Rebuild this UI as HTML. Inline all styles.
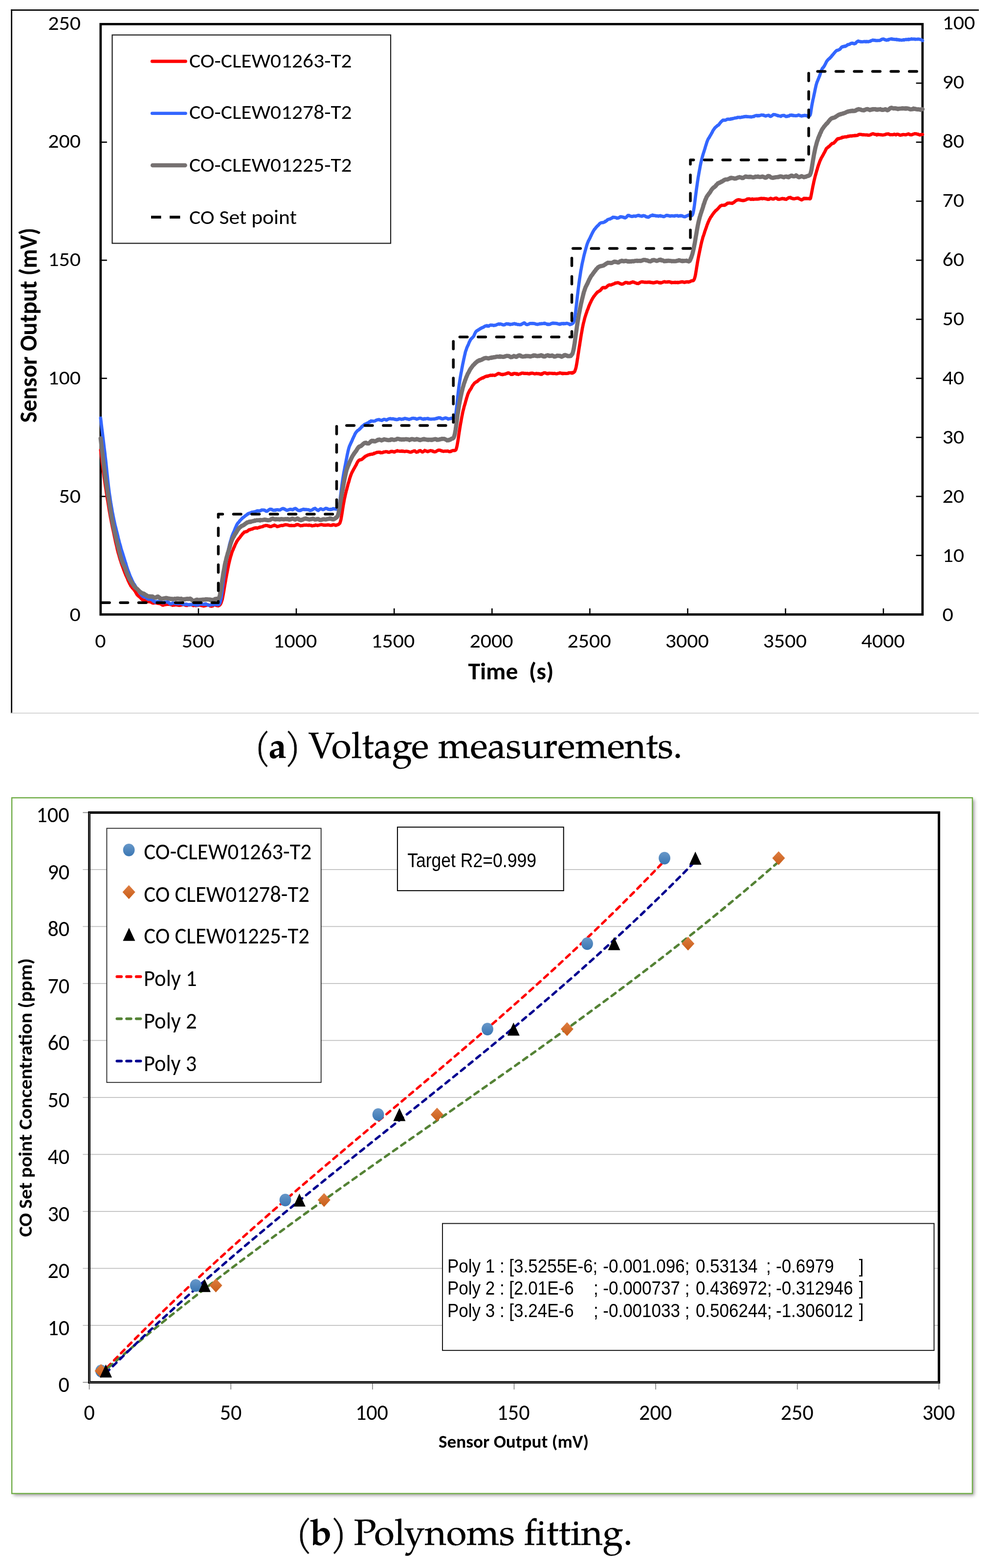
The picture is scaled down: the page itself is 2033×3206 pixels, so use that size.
<!DOCTYPE html>
<html><head><meta charset="utf-8"><title>Figure</title>
<style>html,body{margin:0;padding:0;background:#fff;overflow:hidden;}svg{display:block;}</style>
</head><body>
<svg width="2033" height="3206" viewBox="0 0 2033 3206"><line x1="22.3" y1="20.6" x2="2002" y2="20.6" stroke="#000" stroke-width="2.6"/>
<line x1="23.7" y1="19.3" x2="23.7" y2="1458.6" stroke="#000" stroke-width="2.7"/>
<line x1="22.5" y1="1458.1" x2="2002" y2="1458.1" stroke="#d0d0d0" stroke-width="1.6"/>
<line x1="205.8" y1="1015.0" x2="218.8" y2="1015.0" stroke="#000" stroke-width="2.6"/>
<line x1="205.8" y1="773.6" x2="218.8" y2="773.6" stroke="#000" stroke-width="2.6"/>
<line x1="205.8" y1="532.1" x2="218.8" y2="532.1" stroke="#000" stroke-width="2.6"/>
<line x1="205.8" y1="290.7" x2="218.8" y2="290.7" stroke="#000" stroke-width="2.6"/>
<line x1="1873.6" y1="1135.7" x2="1886.8" y2="1135.7" stroke="#000" stroke-width="2.6"/>
<line x1="1873.6" y1="1015.0" x2="1886.8" y2="1015.0" stroke="#000" stroke-width="2.6"/>
<line x1="1873.6" y1="894.3" x2="1886.8" y2="894.3" stroke="#000" stroke-width="2.6"/>
<line x1="1873.6" y1="773.6" x2="1886.8" y2="773.6" stroke="#000" stroke-width="2.6"/>
<line x1="1873.6" y1="652.9" x2="1886.8" y2="652.9" stroke="#000" stroke-width="2.6"/>
<line x1="1873.6" y1="532.1" x2="1886.8" y2="532.1" stroke="#000" stroke-width="2.6"/>
<line x1="1873.6" y1="411.4" x2="1886.8" y2="411.4" stroke="#000" stroke-width="2.6"/>
<line x1="1873.6" y1="290.7" x2="1886.8" y2="290.7" stroke="#000" stroke-width="2.6"/>
<line x1="1873.6" y1="170.0" x2="1886.8" y2="170.0" stroke="#000" stroke-width="2.6"/>
<line x1="405.9" y1="1243.9" x2="405.9" y2="1256.4" stroke="#000" stroke-width="2.6"/>
<line x1="606.0" y1="1243.9" x2="606.0" y2="1256.4" stroke="#000" stroke-width="2.6"/>
<line x1="806.2" y1="1243.9" x2="806.2" y2="1256.4" stroke="#000" stroke-width="2.6"/>
<line x1="1006.3" y1="1243.9" x2="1006.3" y2="1256.4" stroke="#000" stroke-width="2.6"/>
<line x1="1206.4" y1="1243.9" x2="1206.4" y2="1256.4" stroke="#000" stroke-width="2.6"/>
<line x1="1406.5" y1="1243.9" x2="1406.5" y2="1256.4" stroke="#000" stroke-width="2.6"/>
<line x1="1606.6" y1="1243.9" x2="1606.6" y2="1256.4" stroke="#000" stroke-width="2.6"/>
<line x1="1806.8" y1="1243.9" x2="1806.8" y2="1256.4" stroke="#000" stroke-width="2.6"/>
<text transform="translate(0 1269.70)" x="142.60" y="0" font-family="Carlito, 'Liberation Sans', sans-serif" font-size="41.70" textLength="22.30" lengthAdjust="spacingAndGlyphs" xml:space="preserve">0</text>
<text transform="translate(0 1027.86)" x="120.44" y="0" font-family="Carlito, 'Liberation Sans', sans-serif" font-size="41.70" textLength="44.59" lengthAdjust="spacingAndGlyphs" xml:space="preserve">50</text>
<text transform="translate(0 786.02)" x="98.29" y="0" font-family="Carlito, 'Liberation Sans', sans-serif" font-size="41.70" textLength="66.88" lengthAdjust="spacingAndGlyphs" xml:space="preserve">100</text>
<text transform="translate(0 544.18)" x="98.29" y="0" font-family="Carlito, 'Liberation Sans', sans-serif" font-size="41.70" textLength="66.88" lengthAdjust="spacingAndGlyphs" xml:space="preserve">150</text>
<text transform="translate(0 302.34)" x="98.29" y="0" font-family="Carlito, 'Liberation Sans', sans-serif" font-size="41.70" textLength="66.88" lengthAdjust="spacingAndGlyphs" xml:space="preserve">200</text>
<text transform="translate(0 60.50)" x="98.29" y="0" font-family="Carlito, 'Liberation Sans', sans-serif" font-size="41.70" textLength="66.88" lengthAdjust="spacingAndGlyphs" xml:space="preserve">250</text>
<text transform="translate(0 1269.60)" x="1927.44" y="0" font-family="Carlito, 'Liberation Sans', sans-serif" font-size="41.70" textLength="22.30" lengthAdjust="spacingAndGlyphs" xml:space="preserve">0</text>
<text transform="translate(0 1148.67)" x="1927.44" y="0" font-family="Carlito, 'Liberation Sans', sans-serif" font-size="41.70" textLength="44.59" lengthAdjust="spacingAndGlyphs" xml:space="preserve">10</text>
<text transform="translate(0 1027.74)" x="1927.44" y="0" font-family="Carlito, 'Liberation Sans', sans-serif" font-size="41.70" textLength="44.59" lengthAdjust="spacingAndGlyphs" xml:space="preserve">20</text>
<text transform="translate(0 906.81)" x="1927.44" y="0" font-family="Carlito, 'Liberation Sans', sans-serif" font-size="41.70" textLength="44.59" lengthAdjust="spacingAndGlyphs" xml:space="preserve">30</text>
<text transform="translate(0 785.88)" x="1927.44" y="0" font-family="Carlito, 'Liberation Sans', sans-serif" font-size="41.70" textLength="44.59" lengthAdjust="spacingAndGlyphs" xml:space="preserve">40</text>
<text transform="translate(0 664.95)" x="1927.44" y="0" font-family="Carlito, 'Liberation Sans', sans-serif" font-size="41.70" textLength="44.59" lengthAdjust="spacingAndGlyphs" xml:space="preserve">50</text>
<text transform="translate(0 544.02)" x="1927.44" y="0" font-family="Carlito, 'Liberation Sans', sans-serif" font-size="41.70" textLength="44.59" lengthAdjust="spacingAndGlyphs" xml:space="preserve">60</text>
<text transform="translate(0 423.09)" x="1927.44" y="0" font-family="Carlito, 'Liberation Sans', sans-serif" font-size="41.70" textLength="44.59" lengthAdjust="spacingAndGlyphs" xml:space="preserve">70</text>
<text transform="translate(0 302.16)" x="1927.44" y="0" font-family="Carlito, 'Liberation Sans', sans-serif" font-size="41.70" textLength="44.59" lengthAdjust="spacingAndGlyphs" xml:space="preserve">80</text>
<text transform="translate(0 181.23)" x="1927.44" y="0" font-family="Carlito, 'Liberation Sans', sans-serif" font-size="41.70" textLength="44.59" lengthAdjust="spacingAndGlyphs" xml:space="preserve">90</text>
<text transform="translate(0 60.30)" x="1927.44" y="0" font-family="Carlito, 'Liberation Sans', sans-serif" font-size="41.70" textLength="66.88" lengthAdjust="spacingAndGlyphs" xml:space="preserve">100</text>
<text transform="translate(0 1323.80)" x="194.22" y="0" font-family="Carlito, 'Liberation Sans', sans-serif" font-size="41.70" textLength="22.30" lengthAdjust="spacingAndGlyphs" xml:space="preserve">0</text>
<text transform="translate(0 1323.80)" x="371.66" y="0" font-family="Carlito, 'Liberation Sans', sans-serif" font-size="41.70" textLength="66.88" lengthAdjust="spacingAndGlyphs" xml:space="preserve">500</text>
<text transform="translate(0 1323.80)" x="559.12" y="0" font-family="Carlito, 'Liberation Sans', sans-serif" font-size="41.70" textLength="89.16" lengthAdjust="spacingAndGlyphs" xml:space="preserve">1000</text>
<text transform="translate(0 1323.80)" x="759.24" y="0" font-family="Carlito, 'Liberation Sans', sans-serif" font-size="41.70" textLength="89.16" lengthAdjust="spacingAndGlyphs" xml:space="preserve">1500</text>
<text transform="translate(0 1323.80)" x="960.41" y="0" font-family="Carlito, 'Liberation Sans', sans-serif" font-size="41.70" textLength="89.16" lengthAdjust="spacingAndGlyphs" xml:space="preserve">2000</text>
<text transform="translate(0 1323.80)" x="1160.53" y="0" font-family="Carlito, 'Liberation Sans', sans-serif" font-size="41.70" textLength="89.16" lengthAdjust="spacingAndGlyphs" xml:space="preserve">2500</text>
<text transform="translate(0 1323.80)" x="1360.65" y="0" font-family="Carlito, 'Liberation Sans', sans-serif" font-size="41.70" textLength="89.16" lengthAdjust="spacingAndGlyphs" xml:space="preserve">3000</text>
<text transform="translate(0 1323.80)" x="1560.77" y="0" font-family="Carlito, 'Liberation Sans', sans-serif" font-size="41.70" textLength="89.16" lengthAdjust="spacingAndGlyphs" xml:space="preserve">3500</text>
<text transform="translate(0 1323.80)" x="1761.41" y="0" font-family="Carlito, 'Liberation Sans', sans-serif" font-size="41.70" textLength="89.16" lengthAdjust="spacingAndGlyphs" xml:space="preserve">4000</text>
<text transform="translate(0 1389.00)" x="957.40" y="0" font-family="Carlito, 'Liberation Sans', sans-serif" font-size="48.40" font-weight="700" textLength="175.08" lengthAdjust="spacingAndGlyphs" xml:space="preserve">Time  (s)</text>
<text transform="translate(74.50 665.75) rotate(-90) scale(1 1.0300)" x="-198.44" y="0" font-family="Carlito, 'Liberation Sans', sans-serif" font-size="48.60" font-weight="700" textLength="398.47" lengthAdjust="spacingAndGlyphs" xml:space="preserve">Sensor Output (mV)</text>
<defs><clipPath id="pa"><rect x="200" y="44" width="1693" height="1218"/></clipPath></defs>
<rect x="205.8" y="49.3" width="1681.0" height="1207.1" fill="none" stroke="#000" stroke-width="4.7"/>
<g clip-path="url(#pa)" fill="none" stroke-linejoin="round" stroke-linecap="round">
<path d="M 205.8,920.2 L 206.6,926.2 207.4,933.2 208.2,939.5 209.0,946.0 209.8,951.9 210.6,958.3 211.4,964.3 212.2,969.7 213.0,976.0 213.8,981.2 214.6,986.6 215.4,992.3 216.2,997.6 217.0,1002.5 217.8,1008.2 218.6,1013.5 219.4,1018.8 220.2,1023.5 221.0,1028.1 221.8,1033.1 222.6,1038.4 223.4,1043.1 224.2,1047.7 225.0,1052.1 225.8,1056.6 226.6,1060.8 227.4,1065.0 228.2,1069.2 229.0,1073.1 229.8,1077.0 230.6,1080.8 231.4,1084.4 232.2,1087.8 233.0,1091.8 233.8,1095.6 234.6,1099.7 235.4,1102.9 236.2,1107.2 237.0,1110.7 237.8,1113.7 238.6,1117.3 239.4,1120.9 240.2,1124.6 241.0,1127.5 241.8,1130.6 242.6,1133.2 243.4,1135.7 244.2,1138.9 245.0,1141.8 245.8,1144.4 246.6,1146.6 247.4,1149.1 248.2,1151.7 249.0,1153.7 249.8,1156.3 250.6,1158.0 251.4,1160.3 252.2,1162.5 253.0,1165.0 253.8,1166.8 254.6,1169.0 255.4,1171.1 256.2,1173.0 257.0,1175.1 257.8,1177.0 258.6,1178.4 259.4,1180.4 260.2,1182.2 261.0,1183.9 261.8,1186.4 262.6,1188.0 263.4,1189.6 264.2,1191.3 265.0,1193.1 265.8,1194.3 266.6,1195.9 267.4,1197.6 268.2,1198.8 269.0,1199.5 269.8,1200.6 270.6,1202.2 271.4,1202.4 272.2,1203.5 273.0,1204.2 273.8,1205.6 274.6,1206.5 275.4,1207.8 276.2,1208.1 277.0,1210.1 277.8,1211.1 278.6,1213.0 279.4,1214.1 280.2,1215.8 281.0,1216.5 281.8,1217.1 282.6,1218.4 283.4,1218.5 284.2,1219.2 285.0,1220.2 285.8,1220.7 286.6,1221.4 287.4,1222.1 288.2,1223.1 289.0,1224.1 289.9,1224.8 290.7,1225.7 291.5,1226.4 292.3,1226.5 293.1,1226.6 293.9,1227.4 294.7,1227.2 295.5,1227.5 296.3,1227.8 297.1,1227.7 297.9,1228.4 298.7,1228.4 299.5,1229.4 300.3,1229.5 301.1,1230.0 301.9,1230.3 302.7,1230.1 303.5,1230.3 304.3,1230.0 305.1,1230.1 305.9,1230.4 306.7,1230.2 307.5,1230.4 308.3,1230.5 309.1,1231.3 309.9,1231.6 310.7,1232.4 311.5,1232.2 312.3,1232.9 313.1,1233.2 313.9,1232.8 314.7,1232.4 315.5,1232.9 316.3,1232.7 317.1,1232.5 317.9,1232.6 318.7,1232.3 319.5,1232.8 320.3,1233.0 321.1,1232.9 321.9,1233.4 322.7,1233.3 323.5,1233.7 324.3,1233.9 325.1,1234.1 325.9,1233.4 326.7,1234.1 327.5,1234.2 328.3,1234.6 329.1,1235.1 329.9,1235.6 330.7,1235.7 331.5,1236.9 332.3,1237.3 333.1,1237.4 333.9,1237.5 334.7,1236.8 335.5,1236.5 336.3,1236.6 337.1,1236.4 337.9,1235.8 338.7,1235.2 339.5,1236.1 340.3,1235.3 341.1,1235.6 341.9,1235.2 342.7,1235.7 343.5,1235.6 344.3,1235.8 345.1,1235.7 345.9,1235.1 346.7,1235.2 347.5,1235.5 348.3,1235.7 349.1,1236.2 349.9,1236.1 350.7,1236.4 351.5,1236.7 352.3,1237.1 353.1,1237.6 353.9,1237.5 354.7,1237.5 355.5,1237.1 356.3,1236.8 357.1,1237.1 357.9,1237.1 358.7,1236.7 359.5,1236.8 360.3,1236.8 361.1,1236.7 361.9,1237.1 362.7,1236.9 363.5,1237.2 364.3,1237.3 365.1,1237.5 365.9,1237.8 366.7,1237.9 367.5,1237.7 368.3,1237.8 369.1,1237.4 369.9,1237.2 370.7,1237.3 371.5,1236.6 372.3,1236.6 373.1,1236.1 373.9,1235.8 374.7,1236.2 375.5,1235.8 376.3,1236.1 377.1,1236.5 377.9,1237.0 378.7,1237.3 379.5,1237.8 380.3,1237.8 381.1,1238.0 381.9,1237.8 382.7,1238.0 383.5,1237.5 384.3,1237.3 385.1,1237.1 385.9,1237.0 386.7,1236.5 387.5,1236.9 388.3,1236.2 389.1,1236.2 389.9,1236.2 390.7,1236.3 391.5,1236.8 392.3,1237.0 393.1,1237.1 393.9,1237.4 394.7,1237.7 395.5,1238.3 396.3,1237.9 397.1,1237.7 397.9,1237.7 398.7,1237.8 399.5,1238.1 400.3,1237.4 401.1,1237.6 401.9,1238.1 402.7,1237.4 403.5,1237.9 404.3,1237.8 405.1,1237.7 405.9,1237.2 406.7,1237.6 407.5,1237.4 408.3,1237.0 409.1,1237.1 409.9,1237.5 410.7,1237.7 411.5,1238.1 412.3,1238.1 413.1,1238.1 413.9,1238.4 414.7,1238.7 415.5,1238.7 416.3,1239.2 417.1,1239.1 417.9,1238.8 418.7,1238.7 419.5,1238.4 420.3,1238.3 421.1,1238.1 421.9,1237.6 422.7,1237.6 423.5,1237.4 424.3,1236.6 425.1,1236.6 425.9,1236.5 426.7,1237.1 427.5,1237.2 428.3,1237.7 429.1,1238.4 429.9,1239.3 430.7,1239.3 431.5,1239.3 432.3,1239.5 433.1,1239.5 433.9,1239.0 434.7,1238.4 435.5,1238.7 436.3,1237.6 437.1,1237.1 437.9,1236.9 438.7,1236.6 439.5,1236.8 440.3,1237.2 441.1,1237.4 441.9,1237.6 442.7,1238.2 443.5,1238.3 444.3,1238.3 445.1,1238.2 445.9,1238.8 446.7,1238.7 447.5,1238.3 448.3,1237.6 449.1,1237.3 449.9,1236.1 450.7,1235.6 451.5,1234.1 452.3,1232.4 453.1,1230.1 453.9,1227.5 454.7,1225.0 455.5,1221.1 456.3,1216.6 457.1,1212.3 458.0,1207.7 458.8,1202.3 459.6,1197.7 460.4,1192.9 461.2,1188.6 462.0,1183.7 462.8,1179.5 463.6,1174.9 464.4,1171.1 465.2,1166.8 466.0,1162.5 466.8,1158.8 467.6,1154.7 468.4,1151.2 469.2,1148.0 470.0,1144.5 470.8,1141.6 471.6,1138.4 472.4,1136.1 473.2,1133.5 474.0,1130.7 474.8,1128.2 475.6,1126.2 476.4,1124.7 477.2,1122.7 478.0,1120.5 478.8,1119.0 479.6,1117.3 480.4,1115.2 481.2,1113.3 482.0,1111.8 482.8,1110.3 483.6,1108.7 484.4,1106.8 485.2,1105.9 486.0,1104.6 486.8,1103.4 487.6,1102.3 488.4,1101.5 489.2,1100.3 490.0,1099.6 490.8,1098.5 491.6,1097.6 492.4,1096.0 493.2,1095.3 494.0,1094.4 494.8,1093.3 495.6,1092.2 496.4,1091.0 497.2,1090.7 498.0,1089.8 498.8,1088.9 499.6,1087.7 500.4,1087.7 501.2,1087.8 502.0,1087.4 502.8,1086.9 503.6,1087.3 504.4,1087.1 505.2,1086.3 506.0,1086.0 506.8,1085.4 507.6,1085.0 508.4,1083.8 509.2,1083.3 510.0,1083.1 510.8,1082.7 511.6,1083.1 512.4,1082.3 513.2,1082.3 514.0,1082.0 514.8,1081.8 515.6,1081.7 516.4,1081.7 517.2,1080.8 518.0,1080.7 518.8,1080.2 519.6,1080.0 520.4,1079.7 521.2,1080.0 522.0,1079.2 522.8,1079.4 523.6,1079.3 524.4,1079.1 525.2,1079.6 526.0,1080.0 526.8,1079.6 527.6,1079.4 528.4,1079.0 529.2,1078.6 530.0,1078.8 530.8,1077.9 531.6,1078.2 532.4,1077.5 533.2,1077.5 534.0,1077.4 534.8,1077.2 535.6,1077.1 536.4,1076.9 537.2,1077.0 538.0,1076.3 538.8,1075.6 539.6,1075.3 540.4,1075.2 541.2,1075.1 542.0,1075.1 542.8,1074.4 543.6,1074.6 544.4,1074.4 545.2,1074.5 546.0,1074.4 546.8,1074.7 547.6,1074.9 548.4,1075.5 549.2,1075.7 550.0,1075.4 550.8,1076.3 551.6,1076.6 552.4,1076.5 553.2,1076.5 554.0,1076.9 554.8,1076.5 555.6,1076.0 556.4,1075.8 557.2,1075.5 558.0,1074.8 558.8,1074.9 559.6,1074.4 560.4,1074.3 561.2,1073.7 562.0,1074.6 562.8,1074.5 563.6,1074.9 564.4,1075.0 565.2,1075.5 566.0,1075.8 566.8,1076.8 567.6,1076.3 568.4,1076.5 569.2,1076.3 570.0,1075.7 570.8,1075.7 571.6,1075.6 572.4,1075.0 573.2,1075.0 574.0,1074.7 574.8,1074.5 575.6,1074.5 576.4,1074.1 577.2,1074.5 578.0,1074.7 578.8,1074.3 579.6,1074.1 580.4,1073.9 581.2,1073.3 582.0,1073.3 582.8,1073.5 583.6,1072.8 584.4,1072.9 585.2,1072.9 586.0,1073.1 586.8,1073.1 587.6,1073.4 588.4,1073.3 589.2,1073.6 590.0,1073.8 590.8,1074.0 591.6,1074.6 592.4,1074.4 593.2,1074.5 594.0,1074.4 594.8,1074.8 595.6,1074.0 596.4,1074.4 597.2,1074.7 598.0,1074.8 598.8,1074.5 599.6,1074.5 600.4,1074.7 601.2,1074.5 602.0,1074.7 602.8,1074.3 603.6,1074.4 604.4,1074.0 605.2,1073.4 606.0,1072.7 606.8,1073.2 607.6,1072.8 608.4,1072.7 609.2,1072.4 610.0,1073.0 610.8,1073.1 611.6,1073.4 612.4,1074.0 613.2,1074.3 614.0,1074.5 614.8,1075.1 615.6,1075.0 616.4,1074.7 617.2,1074.5 618.0,1074.5 618.8,1074.7 619.6,1074.3 620.4,1073.8 621.2,1073.7 622.0,1073.8 622.8,1073.9 623.6,1073.5 624.4,1073.7 625.2,1073.9 626.0,1073.9 626.9,1073.4 627.7,1073.8 628.5,1073.7 629.3,1074.1 630.1,1073.8 630.9,1074.2 631.7,1074.1 632.5,1073.4 633.3,1073.8 634.1,1074.1 634.9,1074.1 635.7,1074.2 636.5,1074.1 637.3,1074.7 638.1,1075.2 638.9,1075.0 639.7,1075.0 640.5,1074.9 641.3,1074.5 642.1,1074.5 642.9,1074.2 643.7,1074.5 644.5,1073.8 645.3,1073.4 646.1,1073.7 646.9,1073.9 647.7,1074.1 648.5,1073.8 649.3,1074.6 650.1,1074.4 650.9,1074.2 651.7,1073.9 652.5,1073.9 653.3,1073.5 654.1,1073.3 654.9,1072.9 655.7,1072.8 656.5,1072.9 657.3,1072.7 658.1,1072.5 658.9,1073.1 659.7,1073.1 660.5,1073.0 661.3,1073.6 662.1,1073.5 662.9,1074.0 663.7,1073.5 664.5,1073.4 665.3,1073.5 666.1,1074.0 666.9,1073.6 667.7,1073.6 668.5,1073.5 669.3,1073.0 670.1,1073.6 670.9,1073.0 671.7,1073.3 672.5,1073.1 673.3,1073.6 674.1,1074.0 674.9,1074.0 675.7,1074.0 676.5,1074.2 677.3,1074.0 678.1,1074.0 678.9,1074.1 679.7,1073.1 680.5,1072.9 681.3,1072.9 682.1,1072.9 682.9,1072.7 683.7,1073.3 684.5,1073.6 685.3,1073.7 686.1,1073.5 686.9,1074.2 687.7,1073.5 688.5,1073.7 689.3,1073.6 690.1,1072.7 690.9,1072.8 691.7,1072.7 692.5,1072.2 693.3,1071.4 694.1,1070.6 694.9,1069.9 695.7,1067.9 696.5,1065.3 697.3,1062.3 698.1,1057.9 698.9,1053.4 699.7,1048.5 700.5,1043.3 701.3,1038.1 702.1,1033.1 702.9,1028.6 703.7,1024.3 704.5,1019.9 705.3,1016.4 706.1,1012.7 706.9,1009.2 707.7,1006.1 708.5,1002.6 709.3,1000.2 710.1,996.8 710.9,994.1 711.7,990.6 712.5,987.7 713.3,985.8 714.1,982.7 714.9,979.6 715.7,977.0 716.5,974.5 717.3,972.3 718.1,970.1 718.9,968.0 719.7,966.4 720.5,964.5 721.3,963.7 722.1,961.5 722.9,960.5 723.7,958.6 724.5,957.5 725.3,956.2 726.1,954.4 726.9,953.3 727.7,951.8 728.5,950.5 729.3,948.5 730.1,946.9 730.9,945.3 731.7,944.3 732.5,942.8 733.3,942.0 734.1,941.3 734.9,940.7 735.7,940.3 736.5,940.4 737.3,940.2 738.1,940.0 738.9,939.7 739.7,939.6 740.5,938.6 741.3,938.3 742.1,937.4 742.9,937.0 743.7,936.0 744.5,935.4 745.3,934.9 746.1,933.7 746.9,933.6 747.7,932.7 748.5,932.4 749.3,932.3 750.1,931.7 750.9,931.1 751.7,930.8 752.5,930.4 753.3,930.1 754.1,930.2 754.9,929.6 755.7,929.8 756.5,929.0 757.3,929.1 758.1,929.0 758.9,928.7 759.7,928.5 760.5,928.7 761.3,928.7 762.1,928.3 762.9,928.3 763.7,927.9 764.5,927.0 765.3,927.4 766.1,926.7 766.9,926.8 767.7,926.1 768.5,926.0 769.3,925.6 770.1,925.2 770.9,924.7 771.7,924.9 772.5,924.7 773.3,924.9 774.1,924.5 774.9,924.7 775.7,924.6 776.5,924.9 777.3,924.7 778.1,925.8 778.9,925.5 779.7,925.3 780.5,925.7 781.3,925.7 782.1,925.4 782.9,925.4 783.7,924.8 784.5,924.0 785.3,924.0 786.1,924.3 786.9,924.1 787.7,923.8 788.5,923.4 789.3,923.8 790.1,923.7 790.9,923.5 791.7,923.6 792.5,924.1 793.3,924.5 794.2,924.7 795.0,924.6 795.8,925.0 796.6,924.2 797.4,924.3 798.2,923.7 799.0,923.1 799.8,922.9 800.6,923.3 801.4,922.7 802.2,922.7 803.0,923.3 803.8,923.6 804.6,923.6 805.4,924.1 806.2,923.5 807.0,924.3 807.8,923.8 808.6,923.3 809.4,922.9 810.2,922.4 811.0,922.0 811.8,921.9 812.6,921.5 813.4,922.4 814.2,922.0 815.0,922.3 815.8,922.3 816.6,922.4 817.4,922.8 818.2,922.8 819.0,922.4 819.8,922.5 820.6,922.7 821.4,922.0 822.2,922.0 823.0,923.0 823.8,922.7 824.6,922.3 825.4,922.8 826.2,923.0 827.0,923.2 827.8,923.2 828.6,923.0 829.4,923.0 830.2,922.5 831.0,922.7 831.8,922.7 832.6,922.9 833.4,922.8 834.2,923.3 835.0,923.4 835.8,923.4 836.6,923.9 837.4,924.2 838.2,924.4 839.0,924.5 839.8,924.5 840.6,924.4 841.4,923.9 842.2,924.1 843.0,923.2 843.8,923.1 844.6,922.9 845.4,922.5 846.2,922.2 847.0,921.9 847.8,922.1 848.6,921.9 849.4,922.8 850.2,923.6 851.0,923.8 851.8,924.6 852.6,924.4 853.4,924.2 854.2,924.0 855.0,924.0 855.8,923.3 856.6,922.0 857.4,921.8 858.2,921.6 859.0,921.3 859.8,921.2 860.6,922.0 861.4,922.8 862.2,923.3 863.0,923.7 863.8,924.2 864.6,924.2 865.4,923.6 866.2,923.3 867.0,922.6 867.8,922.0 868.6,921.1 869.4,921.8 870.2,921.7 871.0,922.0 871.8,922.2 872.6,922.4 873.4,923.1 874.2,923.3 875.0,923.5 875.8,923.2 876.6,922.5 877.4,922.3 878.2,922.2 879.0,921.8 879.8,921.4 880.6,921.2 881.4,921.5 882.2,921.5 883.0,922.0 883.8,922.1 884.6,921.8 885.4,923.1 886.2,923.0 887.0,923.2 887.8,923.7 888.6,924.0 889.4,923.8 890.2,923.7 891.0,923.4 891.8,923.4 892.6,922.5 893.4,922.2 894.2,921.6 895.0,921.0 895.8,920.6 896.6,920.4 897.4,920.7 898.2,920.3 899.0,920.4 899.8,920.5 900.6,920.7 901.4,921.3 902.2,921.5 903.0,921.5 903.8,922.3 904.6,922.1 905.4,922.5 906.2,922.6 907.0,923.0 907.8,922.8 908.6,922.6 909.4,922.4 910.2,922.3 911.0,922.5 911.8,922.5 912.6,922.6 913.4,922.2 914.2,922.4 915.0,922.2 915.8,922.0 916.6,922.6 917.4,923.2 918.2,923.2 919.0,923.5 919.8,923.6 920.6,923.0 921.4,923.1 922.2,923.2 923.0,922.3 923.8,921.7 924.6,921.7 925.4,921.5 926.2,921.2 927.0,921.1 927.8,921.1 928.6,921.1 929.4,921.2 930.2,921.2 931.0,920.9 931.8,920.3 932.6,919.5 933.4,917.0 934.2,914.1 935.0,910.5 935.8,905.8 936.6,901.2 937.4,896.1 938.2,890.2 939.0,885.1 939.8,880.0 940.6,874.8 941.4,869.9 942.2,865.3 943.0,861.3 943.8,856.5 944.6,852.2 945.4,848.3 946.2,844.2 947.0,840.4 947.8,837.5 948.6,834.5 949.4,830.8 950.2,828.6 951.0,826.1 951.8,823.0 952.6,820.1 953.4,817.6 954.2,814.4 955.0,812.0 955.8,809.5 956.6,806.9 957.4,804.6 958.2,803.1 959.0,801.3 959.8,800.0 960.6,798.0 961.4,797.6 962.2,795.8 963.1,794.9 963.9,793.5 964.7,791.8 965.5,790.3 966.3,788.8 967.1,787.7 967.9,786.7 968.7,785.7 969.5,784.5 970.3,783.7 971.1,782.8 971.9,782.4 972.7,781.7 973.5,781.0 974.3,780.8 975.1,780.6 975.9,780.0 976.7,779.5 977.5,778.1 978.3,778.1 979.1,777.0 979.9,776.6 980.7,775.7 981.5,775.3 982.3,775.0 983.1,774.6 983.9,774.1 984.7,773.6 985.5,773.5 986.3,773.0 987.1,772.3 987.9,772.8 988.7,772.0 989.5,771.9 990.3,771.2 991.1,770.6 991.9,770.4 992.7,769.9 993.5,770.1 994.3,769.2 995.1,769.4 995.9,768.9 996.7,768.9 997.5,769.4 998.3,768.9 999.1,768.5 999.9,768.0 1000.7,768.0 1001.5,767.8 1002.3,768.0 1003.1,767.2 1003.9,767.0 1004.7,767.3 1005.5,767.4 1006.3,767.7 1007.1,767.2 1007.9,766.8 1008.7,767.3 1009.5,767.2 1010.3,767.4 1011.1,767.7 1011.9,767.1 1012.7,767.5 1013.5,767.0 1014.3,766.5 1015.1,765.9 1015.9,765.5 1016.7,764.9 1017.5,764.7 1018.3,764.3 1019.1,763.6 1019.9,763.7 1020.7,763.8 1021.5,764.0 1022.3,764.2 1023.1,764.9 1023.9,765.2 1024.7,765.6 1025.5,765.4 1026.3,765.6 1027.1,765.3 1027.9,766.1 1028.7,765.9 1029.5,765.4 1030.3,765.5 1031.1,765.3 1031.9,764.7 1032.7,764.9 1033.5,764.9 1034.3,764.6 1035.1,763.9 1035.9,763.6 1036.7,763.7 1037.5,763.3 1038.3,762.6 1039.1,762.4 1039.9,762.7 1040.7,762.5 1041.5,762.8 1042.3,763.8 1043.1,764.0 1043.9,764.3 1044.7,765.0 1045.5,765.7 1046.3,765.4 1047.1,765.1 1047.9,764.7 1048.7,765.4 1049.5,763.9 1050.3,764.5 1051.1,763.7 1051.9,763.5 1052.7,763.5 1053.5,763.7 1054.3,764.1 1055.1,763.8 1055.9,764.4 1056.7,765.0 1057.5,764.0 1058.3,764.8 1059.1,764.8 1059.9,765.6 1060.7,765.1 1061.5,765.0 1062.3,764.7 1063.1,764.7 1063.9,764.5 1064.7,763.8 1065.5,763.9 1066.3,763.4 1067.1,762.8 1067.9,763.0 1068.7,762.9 1069.5,763.1 1070.3,762.8 1071.1,763.1 1071.9,763.6 1072.7,763.3 1073.5,763.8 1074.3,763.6 1075.1,763.3 1075.9,763.7 1076.7,763.5 1077.5,763.8 1078.3,763.6 1079.1,763.4 1079.9,764.2 1080.7,764.1 1081.5,764.4 1082.3,764.5 1083.1,764.4 1083.9,763.6 1084.7,763.1 1085.5,763.3 1086.3,763.4 1087.1,762.9 1087.9,763.1 1088.7,762.9 1089.5,763.2 1090.3,763.4 1091.1,763.5 1091.9,764.0 1092.7,764.1 1093.5,764.4 1094.3,764.1 1095.1,764.2 1095.9,763.8 1096.7,763.9 1097.5,763.6 1098.3,763.5 1099.1,764.0 1099.9,764.0 1100.7,764.2 1101.5,763.9 1102.3,763.9 1103.1,764.3 1103.9,764.8 1104.7,764.5 1105.5,765.3 1106.3,764.6 1107.1,765.1 1107.9,765.4 1108.7,763.8 1109.5,763.6 1110.3,763.8 1111.1,763.0 1111.9,762.7 1112.7,762.3 1113.5,762.5 1114.3,762.4 1115.1,762.3 1115.9,762.7 1116.7,762.9 1117.5,763.5 1118.3,763.3 1119.1,764.2 1119.9,763.9 1120.7,764.3 1121.5,764.0 1122.3,763.2 1123.1,763.5 1123.9,763.0 1124.7,763.1 1125.5,763.3 1126.3,763.2 1127.1,763.3 1127.9,763.4 1128.7,763.2 1129.5,763.3 1130.3,763.7 1131.2,763.9 1132.0,763.6 1132.8,763.8 1133.6,763.5 1134.4,763.2 1135.2,763.7 1136.0,764.0 1136.8,764.1 1137.6,764.3 1138.4,764.3 1139.2,764.2 1140.0,763.9 1140.8,763.8 1141.6,763.3 1142.4,763.3 1143.2,763.1 1144.0,763.2 1144.8,762.4 1145.6,762.7 1146.4,762.5 1147.2,762.9 1148.0,763.0 1148.8,763.6 1149.6,763.5 1150.4,763.1 1151.2,764.1 1152.0,763.5 1152.8,763.3 1153.6,763.6 1154.4,763.4 1155.2,763.3 1156.0,763.7 1156.8,763.5 1157.6,763.8 1158.4,763.7 1159.2,763.7 1160.0,763.5 1160.8,763.3 1161.6,763.0 1162.4,763.3 1163.2,762.2 1164.0,762.3 1164.8,762.2 1165.6,762.4 1166.4,762.2 1167.2,762.1 1168.0,762.2 1168.8,762.8 1169.6,762.2 1170.4,761.7 1171.2,762.8 1172.0,762.0 1172.8,761.8 1173.6,761.5 1174.4,760.4 1175.2,759.9 1176.0,758.1 1176.8,755.6 1177.6,753.3 1178.4,749.9 1179.2,745.7 1180.0,741.2 1180.8,735.6 1181.6,731.0 1182.4,725.2 1183.2,720.4 1184.0,714.7 1184.8,709.6 1185.6,705.1 1186.4,699.4 1187.2,694.6 1188.0,689.5 1188.8,684.2 1189.6,680.2 1190.4,675.7 1191.2,670.8 1192.0,667.1 1192.8,663.0 1193.6,659.8 1194.4,656.8 1195.2,653.5 1196.0,650.3 1196.8,647.6 1197.6,645.2 1198.4,642.7 1199.2,640.4 1200.0,638.3 1200.8,635.4 1201.6,633.7 1202.4,631.9 1203.2,629.6 1204.0,627.2 1204.8,625.2 1205.6,623.4 1206.4,621.6 1207.2,619.6 1208.0,618.3 1208.8,616.5 1209.6,614.4 1210.4,613.3 1211.2,611.7 1212.0,610.1 1212.8,609.0 1213.6,607.9 1214.4,606.2 1215.2,605.5 1216.0,604.6 1216.8,603.3 1217.6,602.3 1218.4,601.5 1219.2,600.3 1220.0,599.3 1220.8,598.9 1221.6,597.6 1222.4,596.9 1223.2,596.4 1224.0,596.2 1224.8,595.5 1225.6,595.1 1226.4,594.6 1227.2,594.4 1228.0,593.3 1228.8,592.9 1229.6,591.7 1230.4,590.4 1231.2,589.9 1232.0,589.1 1232.8,588.0 1233.6,588.0 1234.4,587.9 1235.2,587.8 1236.0,587.7 1236.8,588.7 1237.6,588.4 1238.4,588.3 1239.2,587.9 1240.0,587.3 1240.8,586.6 1241.6,585.5 1242.4,585.0 1243.2,584.1 1244.0,583.5 1244.8,583.4 1245.6,583.0 1246.4,582.4 1247.2,582.6 1248.0,582.8 1248.8,582.6 1249.6,582.6 1250.4,582.1 1251.2,581.7 1252.0,581.8 1252.8,581.4 1253.6,580.7 1254.4,580.8 1255.2,580.3 1256.0,580.3 1256.8,579.9 1257.6,579.5 1258.4,578.6 1259.2,578.9 1260.0,578.7 1260.8,578.6 1261.6,578.3 1262.4,578.1 1263.2,578.2 1264.0,577.8 1264.8,578.4 1265.6,578.3 1266.4,578.9 1267.2,579.2 1268.0,580.0 1268.8,580.0 1269.6,580.3 1270.4,580.6 1271.2,581.2 1272.0,580.6 1272.8,580.9 1273.6,580.8 1274.4,580.5 1275.2,580.1 1276.0,579.5 1276.8,579.3 1277.6,578.7 1278.4,577.9 1279.2,577.6 1280.0,577.5 1280.8,577.6 1281.6,577.8 1282.4,577.9 1283.2,577.9 1284.0,578.8 1284.8,578.4 1285.6,578.7 1286.4,579.0 1287.2,578.6 1288.0,578.9 1288.8,578.7 1289.6,578.3 1290.4,577.7 1291.2,577.4 1292.0,577.1 1292.8,576.8 1293.6,577.1 1294.4,576.4 1295.2,576.9 1296.0,576.8 1296.8,577.0 1297.6,577.5 1298.5,578.0 1299.3,578.3 1300.1,578.5 1300.9,578.7 1301.7,579.0 1302.5,579.6 1303.3,579.6 1304.1,579.7 1304.9,579.3 1305.7,579.8 1306.5,578.7 1307.3,578.8 1308.1,578.4 1308.9,577.7 1309.7,577.1 1310.5,576.9 1311.3,576.5 1312.1,576.5 1312.9,576.2 1313.7,576.2 1314.5,576.6 1315.3,576.3 1316.1,576.8 1316.9,576.9 1317.7,577.2 1318.5,577.1 1319.3,576.9 1320.1,577.4 1320.9,577.0 1321.7,577.0 1322.5,577.0 1323.3,577.5 1324.1,576.9 1324.9,576.7 1325.7,576.9 1326.5,576.7 1327.3,577.3 1328.1,576.7 1328.9,577.1 1329.7,576.9 1330.5,577.7 1331.3,577.2 1332.1,577.6 1332.9,577.6 1333.7,578.2 1334.5,578.2 1335.3,577.6 1336.1,578.4 1336.9,578.4 1337.7,578.2 1338.5,578.2 1339.3,577.4 1340.1,577.0 1340.9,577.4 1341.7,577.4 1342.5,576.6 1343.3,576.5 1344.1,576.6 1344.9,576.6 1345.7,577.3 1346.5,577.3 1347.3,577.8 1348.1,578.1 1348.9,577.7 1349.7,578.3 1350.5,577.7 1351.3,578.3 1352.1,578.5 1352.9,578.0 1353.7,577.5 1354.5,577.5 1355.3,577.5 1356.1,576.7 1356.9,576.2 1357.7,576.3 1358.5,576.3 1359.3,575.8 1360.1,576.1 1360.9,576.6 1361.7,576.6 1362.5,576.8 1363.3,576.6 1364.1,576.6 1364.9,576.3 1365.7,576.3 1366.5,576.7 1367.3,576.1 1368.1,576.0 1368.9,576.1 1369.7,576.2 1370.5,576.8 1371.3,577.1 1372.1,576.9 1372.9,577.6 1373.7,578.1 1374.5,577.4 1375.3,577.8 1376.1,577.6 1376.9,577.8 1377.7,577.7 1378.5,577.5 1379.3,577.3 1380.1,577.1 1380.9,577.8 1381.7,577.1 1382.5,577.7 1383.3,577.7 1384.1,577.4 1384.9,577.6 1385.7,578.0 1386.5,577.2 1387.3,577.9 1388.1,577.6 1388.9,577.5 1389.7,577.0 1390.5,577.3 1391.3,576.7 1392.1,576.9 1392.9,576.3 1393.7,576.6 1394.5,576.5 1395.3,576.0 1396.1,576.6 1396.9,576.8 1397.7,576.5 1398.5,577.1 1399.3,577.5 1400.1,577.1 1400.9,577.5 1401.7,576.7 1402.5,576.5 1403.3,576.7 1404.1,576.5 1404.9,576.2 1405.7,576.2 1406.5,576.5 1407.3,576.2 1408.1,576.9 1408.9,576.5 1409.7,576.4 1410.5,576.1 1411.3,575.6 1412.1,575.5 1412.9,574.6 1413.7,574.4 1414.5,574.1 1415.3,574.1 1416.1,574.1 1416.9,573.7 1417.7,573.9 1418.5,573.2 1419.3,572.1 1420.1,570.5 1420.9,568.0 1421.7,565.2 1422.5,561.4 1423.3,556.4 1424.1,551.8 1424.9,546.6 1425.7,541.9 1426.5,536.8 1427.3,532.3 1428.1,528.0 1428.9,523.9 1429.7,519.9 1430.5,516.0 1431.3,512.1 1432.1,508.1 1432.9,504.7 1433.7,500.5 1434.5,497.4 1435.3,493.8 1436.1,490.9 1436.9,488.1 1437.7,484.8 1438.5,482.8 1439.3,480.5 1440.1,478.0 1440.9,475.6 1441.7,472.7 1442.5,470.8 1443.3,468.3 1444.1,466.4 1444.9,463.8 1445.7,461.5 1446.5,459.0 1447.3,457.5 1448.1,455.1 1448.9,453.2 1449.7,451.7 1450.5,449.7 1451.3,448.1 1452.1,447.2 1452.9,445.1 1453.7,443.9 1454.5,443.0 1455.3,442.1 1456.1,440.3 1456.9,439.5 1457.7,438.2 1458.5,437.0 1459.3,436.3 1460.1,434.9 1460.9,434.1 1461.7,433.1 1462.5,432.2 1463.3,431.4 1464.1,430.4 1464.9,429.9 1465.7,429.3 1466.5,428.5 1467.4,427.6 1468.2,427.0 1469.0,426.0 1469.8,425.0 1470.6,424.2 1471.4,423.2 1472.2,422.6 1473.0,421.3 1473.8,420.9 1474.6,420.6 1475.4,420.4 1476.2,419.6 1477.0,419.9 1477.8,419.9 1478.6,419.7 1479.4,419.7 1480.2,419.5 1481.0,419.8 1481.8,419.1 1482.6,419.6 1483.4,418.9 1484.2,418.8 1485.0,417.5 1485.8,417.4 1486.6,416.7 1487.4,415.9 1488.2,415.4 1489.0,415.6 1489.8,415.2 1490.6,415.4 1491.4,415.0 1492.2,415.1 1493.0,415.2 1493.8,415.4 1494.6,415.5 1495.4,415.6 1496.2,415.3 1497.0,415.1 1497.8,415.8 1498.6,415.1 1499.4,414.8 1500.2,414.1 1501.0,413.8 1501.8,413.0 1502.6,412.6 1503.4,411.5 1504.2,411.0 1505.0,410.5 1505.8,409.8 1506.6,409.5 1507.4,409.5 1508.2,408.7 1509.0,408.6 1509.8,408.6 1510.6,408.3 1511.4,408.3 1512.2,409.0 1513.0,409.1 1513.8,408.7 1514.6,408.9 1515.4,409.5 1516.2,409.8 1517.0,409.7 1517.8,409.8 1518.6,410.1 1519.4,409.7 1520.2,410.1 1521.0,410.1 1521.8,409.5 1522.6,409.8 1523.4,409.5 1524.2,409.1 1525.0,408.7 1525.8,408.6 1526.6,408.0 1527.4,407.8 1528.2,406.8 1529.0,406.7 1529.8,406.9 1530.6,406.6 1531.4,406.5 1532.2,406.6 1533.0,406.5 1533.8,406.8 1534.6,407.4 1535.4,407.4 1536.2,407.7 1537.0,407.3 1537.8,407.3 1538.6,406.6 1539.4,407.2 1540.2,407.7 1541.0,407.3 1541.8,407.1 1542.6,407.4 1543.4,407.3 1544.2,407.1 1545.0,407.0 1545.8,407.1 1546.6,407.3 1547.4,406.9 1548.2,407.2 1549.0,407.1 1549.8,407.2 1550.6,407.0 1551.4,406.5 1552.2,406.9 1553.0,406.4 1553.8,406.0 1554.6,406.2 1555.4,405.9 1556.2,406.2 1557.0,405.6 1557.8,405.6 1558.6,405.9 1559.4,406.4 1560.2,406.3 1561.0,405.8 1561.8,405.7 1562.6,406.0 1563.4,405.7 1564.2,406.2 1565.0,406.2 1565.8,406.2 1566.6,406.3 1567.4,407.0 1568.2,406.7 1569.0,406.8 1569.8,407.6 1570.6,407.8 1571.4,407.4 1572.2,407.4 1573.0,407.6 1573.8,406.5 1574.6,406.3 1575.4,406.2 1576.2,405.4 1577.0,405.9 1577.8,406.2 1578.6,406.3 1579.4,406.8 1580.2,407.0 1581.0,406.9 1581.8,407.1 1582.6,406.9 1583.4,406.1 1584.2,405.9 1585.0,405.5 1585.8,405.3 1586.6,405.1 1587.4,404.9 1588.2,405.5 1589.0,405.5 1589.8,406.6 1590.6,406.9 1591.4,407.5 1592.2,407.6 1593.0,407.5 1593.8,407.2 1594.6,407.5 1595.4,407.1 1596.2,406.9 1597.0,406.7 1597.8,406.5 1598.6,406.0 1599.4,406.4 1600.2,405.9 1601.0,405.9 1601.8,406.2 1602.6,406.5 1603.4,406.8 1604.2,406.3 1605.0,407.4 1605.8,407.0 1606.6,407.4 1607.4,407.6 1608.2,407.6 1609.0,406.8 1609.8,406.1 1610.6,406.2 1611.4,405.5 1612.2,404.7 1613.0,404.4 1613.8,403.8 1614.6,404.2 1615.4,404.0 1616.2,404.5 1617.0,403.8 1617.8,404.8 1618.6,405.5 1619.4,405.3 1620.2,405.7 1621.0,405.5 1621.8,406.4 1622.6,406.5 1623.4,406.5 1624.2,406.2 1625.0,406.5 1625.8,406.0 1626.6,405.9 1627.4,405.8 1628.2,405.5 1629.0,405.3 1629.8,405.4 1630.6,404.8 1631.4,405.4 1632.2,404.9 1633.0,405.2 1633.8,405.8 1634.6,406.5 1635.5,406.9 1636.3,407.3 1637.1,407.8 1637.9,408.3 1638.7,408.4 1639.5,408.8 1640.3,408.3 1641.1,408.3 1641.9,407.2 1642.7,406.8 1643.5,406.4 1644.3,405.6 1645.1,405.5 1645.9,406.3 1646.7,405.7 1647.5,406.2 1648.3,405.8 1649.1,405.5 1649.9,406.3 1650.7,406.2 1651.5,406.2 1652.3,406.0 1653.1,405.9 1653.9,405.7 1654.7,406.3 1655.5,405.8 1656.3,406.6 1657.1,406.5 1657.9,404.9 1658.7,401.0 1659.5,397.1 1660.3,392.9 1661.1,388.7 1661.9,384.5 1662.7,380.2 1663.5,377.0 1664.3,372.8 1665.1,369.3 1665.9,365.9 1666.7,362.8 1667.5,359.5 1668.3,356.8 1669.1,353.8 1669.9,351.1 1670.7,348.0 1671.5,346.1 1672.3,342.6 1673.1,340.3 1673.9,337.8 1674.7,335.5 1675.5,333.5 1676.3,331.0 1677.1,329.1 1677.9,327.0 1678.7,325.8 1679.5,323.5 1680.3,322.2 1681.1,320.9 1681.9,319.5 1682.7,318.1 1683.5,316.8 1684.3,315.2 1685.1,313.6 1685.9,312.2 1686.7,310.9 1687.5,309.1 1688.3,307.7 1689.1,306.0 1689.9,304.2 1690.7,303.3 1691.5,302.5 1692.3,302.1 1693.1,301.4 1693.9,300.9 1694.7,299.8 1695.5,299.6 1696.3,298.8 1697.1,298.2 1697.9,297.2 1698.7,296.1 1699.5,295.7 1700.3,294.8 1701.1,294.3 1701.9,293.3 1702.7,293.4 1703.5,293.2 1704.3,293.0 1705.1,292.7 1705.9,291.8 1706.7,290.7 1707.5,290.7 1708.3,289.3 1709.1,288.4 1709.9,287.6 1710.7,286.4 1711.5,285.4 1712.3,284.8 1713.1,283.7 1713.9,284.3 1714.7,283.5 1715.5,283.3 1716.3,283.4 1717.1,283.1 1717.9,282.7 1718.7,282.6 1719.5,282.3 1720.3,281.9 1721.1,282.2 1721.9,281.1 1722.7,280.6 1723.5,280.6 1724.3,280.4 1725.1,280.8 1725.9,280.3 1726.7,280.3 1727.5,280.1 1728.3,279.6 1729.1,280.0 1729.9,279.7 1730.7,280.1 1731.5,279.5 1732.3,279.4 1733.1,279.4 1733.9,279.3 1734.7,278.4 1735.5,279.0 1736.3,278.8 1737.1,278.6 1737.9,278.0 1738.7,277.7 1739.5,278.0 1740.3,278.2 1741.1,278.2 1741.9,277.8 1742.7,278.2 1743.5,277.6 1744.3,277.5 1745.1,277.7 1745.9,277.5 1746.7,277.3 1747.5,277.0 1748.3,277.6 1749.1,276.9 1749.9,277.2 1750.7,277.3 1751.5,277.0 1752.3,276.9 1753.1,276.9 1753.9,276.8 1754.7,276.4 1755.5,275.5 1756.3,275.0 1757.1,275.0 1757.9,274.7 1758.7,274.9 1759.5,274.7 1760.3,274.7 1761.1,275.1 1761.9,275.2 1762.7,275.1 1763.5,275.4 1764.3,275.7 1765.1,275.5 1765.9,275.7 1766.7,275.4 1767.5,275.7 1768.3,275.8 1769.1,275.7 1769.9,275.8 1770.7,276.0 1771.5,276.0 1772.3,275.7 1773.1,275.8 1773.9,275.7 1774.7,276.5 1775.5,276.3 1776.3,276.4 1777.1,276.3 1777.9,276.4 1778.7,276.3 1779.5,275.8 1780.3,275.6 1781.1,275.5 1781.9,274.5 1782.7,274.2 1783.5,274.2 1784.3,273.6 1785.1,273.8 1785.9,273.4 1786.7,273.8 1787.5,274.2 1788.3,274.3 1789.1,274.6 1789.9,274.6 1790.7,274.8 1791.5,274.9 1792.3,275.1 1793.1,275.9 1793.9,275.0 1794.7,275.5 1795.5,275.0 1796.3,274.8 1797.1,275.0 1797.9,275.2 1798.7,275.2 1799.5,275.3 1800.3,275.5 1801.1,275.6 1801.9,275.8 1802.8,275.5 1803.6,275.9 1804.4,275.8 1805.2,276.1 1806.0,276.0 1806.8,276.0 1807.6,275.7 1808.4,275.5 1809.2,275.4 1810.0,275.4 1810.8,275.2 1811.6,274.4 1812.4,274.6 1813.2,274.4 1814.0,273.8 1814.8,273.8 1815.6,273.9 1816.4,274.2 1817.2,273.7 1818.0,274.4 1818.8,274.5 1819.6,274.9 1820.4,275.5 1821.2,275.6 1822.0,275.2 1822.8,275.2 1823.6,275.4 1824.4,275.5 1825.2,275.5 1826.0,275.2 1826.8,275.4 1827.6,274.8 1828.4,274.8 1829.2,274.4 1830.0,274.9 1830.8,275.3 1831.6,275.3 1832.4,275.8 1833.2,275.0 1834.0,274.8 1834.8,274.4 1835.6,274.5 1836.4,274.5 1837.2,274.8 1838.0,274.9 1838.8,275.1 1839.6,276.0 1840.4,276.2 1841.2,276.6 1842.0,276.0 1842.8,276.0 1843.6,275.9 1844.4,276.1 1845.2,275.5 1846.0,275.3 1846.8,275.1 1847.6,275.1 1848.4,275.0 1849.2,275.3 1850.0,275.2 1850.8,275.5 1851.6,275.7 1852.4,275.7 1853.2,275.6 1854.0,275.0 1854.8,274.9 1855.6,274.4 1856.4,274.3 1857.2,274.3 1858.0,273.7 1858.8,274.4 1859.6,274.2 1860.4,274.6 1861.2,275.5 1862.0,275.6 1862.8,275.7 1863.6,275.8 1864.4,275.8 1865.2,275.1 1866.0,275.1 1866.8,274.6 1867.6,274.5 1868.4,274.0 1869.2,274.0 1870.0,273.6 1870.8,273.2 1871.6,273.3 1872.4,273.4 1873.2,273.6 1874.0,273.5 1874.8,273.7 1875.6,274.1 1876.4,274.5 1877.2,274.6 1878.0,274.4 1878.8,275.3 1879.6,275.3 1880.4,275.4 1881.2,276.1 1882.0,275.5 1882.8,275.6 1883.6,275.0 1884.4,275.3 1885.2,275.3 1886.0,275.1 1886.8,274.8" stroke="#ff0000" stroke-width="6.6"/>
<path d="M 205.8,854.8 L 206.6,861.4 207.4,868.3 208.2,874.9 209.0,881.2 209.8,887.7 210.6,894.5 211.4,900.7 212.2,907.5 213.0,914.3 213.8,920.7 214.6,927.0 215.4,934.5 216.2,941.2 217.0,948.7 217.8,956.3 218.6,964.5 219.4,971.5 220.2,979.4 221.0,986.8 221.8,993.8 222.6,1000.3 223.4,1006.6 224.2,1012.3 225.0,1017.3 225.8,1022.9 226.6,1028.1 227.4,1032.6 228.2,1037.4 229.0,1041.9 229.8,1046.9 230.6,1050.6 231.4,1054.9 232.2,1058.6 233.0,1063.1 233.8,1066.4 234.6,1070.1 235.4,1073.8 236.2,1077.0 237.0,1079.8 237.8,1083.4 238.6,1086.7 239.4,1089.5 240.2,1092.7 241.0,1096.0 241.8,1099.7 242.6,1102.8 243.4,1105.7 244.2,1109.1 245.0,1112.1 245.8,1114.6 246.6,1117.2 247.4,1120.6 248.2,1123.5 249.0,1125.9 249.8,1128.4 250.6,1130.7 251.4,1133.2 252.2,1135.9 253.0,1138.6 253.8,1141.0 254.6,1143.8 255.4,1146.2 256.2,1149.0 257.0,1150.8 257.8,1153.9 258.6,1156.8 259.4,1159.4 260.2,1161.6 261.0,1164.3 261.8,1166.3 262.6,1168.5 263.4,1170.2 264.2,1172.6 265.0,1174.7 265.8,1176.8 266.6,1178.8 267.4,1180.5 268.2,1182.4 269.0,1183.9 269.8,1186.2 270.6,1187.5 271.4,1189.3 272.2,1190.8 273.0,1192.7 273.8,1193.9 274.6,1194.7 275.4,1195.9 276.2,1197.4 277.0,1198.6 277.8,1200.1 278.6,1201.3 279.4,1202.7 280.2,1203.5 281.0,1204.8 281.8,1206.2 282.6,1207.4 283.4,1208.3 284.2,1209.6 285.0,1211.0 285.8,1211.5 286.6,1213.1 287.4,1214.3 288.2,1215.0 289.0,1216.2 289.9,1217.4 290.7,1218.0 291.5,1219.0 292.3,1219.3 293.1,1220.0 293.9,1219.3 294.7,1220.2 295.5,1219.8 296.3,1220.5 297.1,1221.0 297.9,1221.5 298.7,1222.0 299.5,1222.7 300.3,1223.1 301.1,1224.1 301.9,1224.4 302.7,1225.1 303.5,1224.9 304.3,1225.1 305.1,1225.3 305.9,1225.1 306.7,1225.1 307.5,1225.1 308.3,1225.2 309.1,1225.7 309.9,1226.1 310.7,1226.1 311.5,1227.2 312.3,1227.5 313.1,1227.6 313.9,1229.3 314.7,1229.4 315.5,1229.7 316.3,1230.7 317.1,1230.1 317.9,1231.5 318.7,1230.5 319.5,1230.4 320.3,1230.3 321.1,1230.4 321.9,1230.0 322.7,1230.2 323.5,1229.7 324.3,1230.2 325.1,1230.1 325.9,1230.0 326.7,1230.7 327.5,1230.8 328.3,1230.9 329.1,1231.6 329.9,1231.3 330.7,1231.7 331.5,1232.4 332.3,1232.2 333.1,1232.4 333.9,1232.4 334.7,1232.1 335.5,1232.1 336.3,1231.5 337.1,1231.7 337.9,1231.1 338.7,1231.1 339.5,1230.7 340.3,1231.0 341.1,1230.9 341.9,1231.2 342.7,1230.9 343.5,1231.2 344.3,1231.4 345.1,1232.2 345.9,1233.1 346.7,1233.9 347.5,1234.3 348.3,1234.7 349.1,1234.5 349.9,1234.5 350.7,1234.6 351.5,1234.2 352.3,1233.3 353.1,1233.1 353.9,1233.0 354.7,1232.6 355.5,1233.0 356.3,1233.1 357.1,1233.3 357.9,1233.9 358.7,1233.5 359.5,1234.2 360.3,1234.2 361.1,1234.3 361.9,1234.0 362.7,1234.2 363.5,1234.2 364.3,1234.5 365.1,1234.0 365.9,1234.2 366.7,1233.7 367.5,1233.6 368.3,1233.7 369.1,1233.2 369.9,1233.8 370.7,1234.0 371.5,1234.4 372.3,1234.8 373.1,1234.8 373.9,1235.1 374.7,1235.9 375.5,1235.5 376.3,1235.6 377.1,1235.5 377.9,1235.6 378.7,1236.0 379.5,1235.9 380.3,1235.2 381.1,1235.5 381.9,1236.0 382.7,1235.6 383.5,1235.9 384.3,1236.3 385.1,1236.5 385.9,1236.4 386.7,1236.0 387.5,1236.1 388.3,1236.1 389.1,1236.0 389.9,1235.9 390.7,1236.4 391.5,1235.9 392.3,1235.8 393.1,1235.8 393.9,1235.6 394.7,1235.4 395.5,1235.5 396.3,1235.9 397.1,1235.9 397.9,1235.5 398.7,1236.5 399.5,1236.9 400.3,1236.6 401.1,1236.7 401.9,1236.9 402.7,1237.3 403.5,1236.7 404.3,1237.0 405.1,1237.0 405.9,1236.6 406.7,1236.2 407.5,1235.7 408.3,1235.5 409.1,1235.4 409.9,1234.9 410.7,1235.0 411.5,1234.8 412.3,1235.4 413.1,1235.5 413.9,1235.1 414.7,1235.8 415.5,1235.7 416.3,1235.7 417.1,1235.7 417.9,1235.6 418.7,1235.0 419.5,1235.8 420.3,1234.9 421.1,1234.6 421.9,1235.3 422.7,1235.7 423.5,1235.9 424.3,1236.1 425.1,1237.2 425.9,1237.2 426.7,1237.5 427.5,1237.4 428.3,1237.4 429.1,1237.1 429.9,1237.1 430.7,1236.7 431.5,1236.6 432.3,1236.5 433.1,1236.3 433.9,1236.2 434.7,1236.5 435.5,1235.8 436.3,1236.2 437.1,1236.5 437.9,1235.8 438.7,1236.2 439.5,1235.7 440.3,1235.7 441.1,1235.6 441.9,1235.5 442.7,1235.8 443.5,1235.7 444.3,1235.4 445.1,1236.5 445.9,1236.0 446.7,1235.9 447.5,1236.0 448.3,1235.6 449.1,1233.9 449.9,1233.0 450.7,1230.2 451.5,1227.4 452.3,1223.0 453.1,1217.5 453.9,1211.3 454.7,1204.7 455.5,1198.3 456.3,1191.8 457.1,1185.5 458.0,1179.0 458.8,1173.2 459.6,1167.9 460.4,1162.2 461.2,1156.7 462.0,1151.8 462.8,1146.9 463.6,1142.4 464.4,1137.9 465.2,1133.6 466.0,1129.5 466.8,1125.9 467.6,1121.7 468.4,1118.7 469.2,1114.5 470.0,1111.7 470.8,1108.6 471.6,1105.8 472.4,1103.5 473.2,1100.2 474.0,1097.7 474.8,1095.1 475.6,1093.8 476.4,1091.1 477.2,1089.7 478.0,1087.6 478.8,1086.5 479.6,1083.9 480.4,1082.1 481.2,1079.9 482.0,1078.1 482.8,1076.6 483.6,1074.3 484.4,1072.9 485.2,1071.5 486.0,1070.2 486.8,1069.1 487.6,1068.4 488.4,1067.7 489.2,1066.8 490.0,1065.2 490.8,1064.5 491.6,1063.7 492.4,1063.0 493.2,1062.0 494.0,1061.2 494.8,1060.5 495.6,1059.8 496.4,1058.4 497.2,1058.2 498.0,1057.8 498.8,1057.3 499.6,1056.6 500.4,1055.6 501.2,1055.0 502.0,1054.6 502.8,1053.9 503.6,1053.4 504.4,1053.0 505.2,1051.9 506.0,1051.6 506.8,1050.6 507.6,1050.9 508.4,1050.3 509.2,1049.6 510.0,1049.5 510.8,1049.3 511.6,1048.9 512.4,1048.3 513.2,1048.0 514.0,1047.8 514.8,1047.3 515.6,1047.1 516.4,1047.2 517.2,1047.1 518.0,1047.0 518.8,1046.7 519.6,1046.5 520.4,1046.5 521.2,1046.1 522.0,1046.0 522.8,1046.0 523.6,1045.6 524.4,1044.9 525.2,1044.8 526.0,1044.4 526.8,1044.7 527.6,1044.5 528.4,1044.4 529.2,1044.5 530.0,1044.9 530.8,1044.7 531.6,1044.4 532.4,1044.4 533.2,1043.7 534.0,1043.3 534.8,1043.3 535.6,1042.5 536.4,1042.8 537.2,1042.7 538.0,1042.7 538.8,1042.9 539.6,1042.8 540.4,1043.2 541.2,1043.1 542.0,1043.8 542.8,1044.2 543.6,1044.8 544.4,1045.4 545.2,1045.2 546.0,1045.4 546.8,1044.7 547.6,1044.5 548.4,1043.4 549.2,1043.0 550.0,1042.3 550.8,1041.8 551.6,1041.4 552.4,1041.1 553.2,1041.0 554.0,1041.5 554.8,1041.4 555.6,1041.2 556.4,1042.2 557.2,1042.6 558.0,1043.0 558.8,1043.4 559.6,1043.0 560.4,1043.4 561.2,1043.4 562.0,1043.0 562.8,1042.7 563.6,1043.3 564.4,1042.6 565.2,1042.5 566.0,1042.3 566.8,1042.2 567.6,1042.3 568.4,1042.1 569.2,1042.5 570.0,1042.7 570.8,1042.7 571.6,1042.8 572.4,1042.7 573.2,1042.5 574.0,1041.6 574.8,1041.4 575.6,1041.0 576.4,1040.6 577.2,1040.1 578.0,1040.0 578.8,1039.7 579.6,1039.8 580.4,1040.6 581.2,1040.4 582.0,1040.7 582.8,1041.3 583.6,1042.1 584.4,1042.0 585.2,1042.9 586.0,1043.3 586.8,1043.5 587.6,1043.3 588.4,1043.0 589.2,1042.6 590.0,1042.5 590.8,1042.4 591.6,1041.8 592.4,1041.6 593.2,1041.2 594.0,1041.6 594.8,1041.3 595.6,1041.5 596.4,1041.9 597.2,1041.9 598.0,1042.3 598.8,1042.3 599.6,1041.8 600.4,1040.9 601.2,1040.5 602.0,1040.4 602.8,1039.7 603.6,1039.9 604.4,1039.5 605.2,1040.1 606.0,1040.8 606.8,1041.0 607.6,1042.0 608.4,1042.6 609.2,1043.2 610.0,1043.3 610.8,1043.6 611.6,1043.9 612.4,1044.0 613.2,1043.6 614.0,1043.9 614.8,1043.7 615.6,1042.8 616.4,1042.4 617.2,1042.2 618.0,1042.3 618.8,1041.8 619.6,1041.3 620.4,1041.4 621.2,1041.1 622.0,1041.9 622.8,1041.5 623.6,1042.0 624.4,1041.6 625.2,1041.9 626.0,1041.6 626.9,1042.0 627.7,1042.1 628.5,1042.1 629.3,1042.0 630.1,1042.3 630.9,1042.1 631.7,1042.4 632.5,1043.0 633.3,1043.6 634.1,1043.6 634.9,1043.8 635.7,1043.2 636.5,1043.2 637.3,1042.8 638.1,1042.5 638.9,1042.4 639.7,1041.6 640.5,1041.2 641.3,1040.3 642.1,1040.0 642.9,1039.9 643.7,1039.7 644.5,1039.3 645.3,1040.2 646.1,1040.7 646.9,1041.2 647.7,1042.0 648.5,1042.6 649.3,1042.9 650.1,1042.9 650.9,1043.8 651.7,1043.0 652.5,1042.5 653.3,1041.9 654.1,1041.3 654.9,1040.8 655.7,1040.2 656.5,1040.5 657.3,1040.7 658.1,1041.1 658.9,1041.5 659.7,1041.9 660.5,1041.8 661.3,1042.0 662.1,1041.7 662.9,1041.2 663.7,1040.9 664.5,1040.3 665.3,1039.8 666.1,1039.2 666.9,1039.4 667.7,1039.6 668.5,1039.6 669.3,1039.9 670.1,1040.9 670.9,1040.5 671.7,1041.3 672.5,1041.6 673.3,1041.5 674.1,1041.8 674.9,1042.0 675.7,1041.3 676.5,1042.0 677.3,1041.6 678.1,1041.1 678.9,1041.4 679.7,1040.9 680.5,1040.6 681.3,1040.0 682.1,1040.6 682.9,1040.4 683.7,1040.3 684.5,1040.5 685.3,1040.9 686.1,1040.7 686.9,1041.0 687.7,1041.1 688.5,1041.1 689.3,1041.2 690.1,1041.2 690.9,1040.9 691.7,1040.4 692.5,1038.5 693.3,1035.8 694.1,1032.0 694.9,1026.8 695.7,1021.1 696.5,1014.1 697.3,1007.3 698.1,1001.4 698.9,995.0 699.7,989.1 700.5,983.1 701.3,978.0 702.1,973.1 702.9,968.4 703.7,963.8 704.5,959.8 705.3,955.3 706.1,951.5 706.9,947.2 707.7,943.2 708.5,938.8 709.3,934.9 710.1,930.6 710.9,927.1 711.7,923.1 712.5,919.9 713.3,916.8 714.1,914.3 714.9,911.8 715.7,910.5 716.5,908.2 717.3,906.9 718.1,904.6 718.9,903.6 719.7,901.6 720.5,900.0 721.3,897.4 722.1,896.3 722.9,894.2 723.7,892.6 724.5,891.2 725.3,889.2 726.1,887.4 726.9,886.2 727.7,884.6 728.5,883.7 729.3,882.7 730.1,881.9 730.9,881.0 731.7,880.0 732.5,879.8 733.3,879.2 734.1,878.7 734.9,878.0 735.7,876.7 736.5,876.5 737.3,875.6 738.1,874.6 738.9,873.8 739.7,872.4 740.5,872.7 741.3,871.3 742.1,870.5 742.9,870.3 743.7,869.6 744.5,868.7 745.3,867.9 746.1,868.1 746.9,867.8 747.7,866.8 748.5,866.3 749.3,866.3 750.1,866.4 750.9,865.1 751.7,865.1 752.5,864.4 753.3,864.2 754.1,863.8 754.9,863.4 755.7,862.4 756.5,861.9 757.3,862.3 758.1,861.6 758.9,860.6 759.7,860.9 760.5,861.1 761.3,860.8 762.1,860.9 762.9,861.0 763.7,861.2 764.5,861.2 765.3,861.1 766.1,860.7 766.9,860.8 767.7,860.3 768.5,859.9 769.3,859.2 770.1,859.0 770.9,858.8 771.7,858.4 772.5,858.3 773.3,858.0 774.1,858.1 774.9,857.8 775.7,858.0 776.5,858.6 777.3,858.9 778.1,858.8 778.9,859.1 779.7,859.3 780.5,859.7 781.3,859.6 782.1,858.8 782.9,858.3 783.7,857.9 784.5,858.1 785.3,857.4 786.1,857.7 786.9,857.5 787.7,857.7 788.5,858.2 789.3,858.4 790.1,858.9 790.9,858.6 791.7,858.6 792.5,857.7 793.3,857.4 794.2,856.8 795.0,856.5 795.8,856.4 796.6,856.0 797.4,856.1 798.2,855.8 799.0,856.0 799.8,856.5 800.6,856.4 801.4,856.5 802.2,856.6 803.0,856.3 803.8,856.1 804.6,856.6 805.4,856.7 806.2,857.2 807.0,856.9 807.8,857.2 808.6,857.8 809.4,857.5 810.2,857.6 811.0,858.1 811.8,858.0 812.6,858.0 813.4,857.4 814.2,857.6 815.0,857.0 815.8,856.2 816.6,856.4 817.4,856.3 818.2,856.5 819.0,856.9 819.8,856.8 820.6,856.9 821.4,857.4 822.2,857.1 823.0,856.8 823.8,856.6 824.6,857.0 825.4,856.5 826.2,856.4 827.0,855.5 827.8,855.5 828.6,855.4 829.4,855.9 830.2,856.1 831.0,856.0 831.8,856.2 832.6,856.6 833.4,856.6 834.2,856.7 835.0,856.9 835.8,857.4 836.6,857.7 837.4,857.2 838.2,856.9 839.0,856.8 839.8,856.6 840.6,856.4 841.4,855.7 842.2,855.6 843.0,855.3 843.8,855.4 844.6,855.2 845.4,855.0 846.2,855.4 847.0,855.5 847.8,855.5 848.6,855.4 849.4,855.9 850.2,855.9 851.0,856.5 851.8,856.8 852.6,857.1 853.4,856.9 854.2,856.3 855.0,856.2 855.8,855.8 856.6,855.5 857.4,855.3 858.2,855.2 859.0,855.0 859.8,855.0 860.6,855.2 861.4,855.5 862.2,855.9 863.0,856.4 863.8,856.5 864.6,856.9 865.4,856.5 866.2,857.2 867.0,856.7 867.8,856.0 868.6,856.6 869.4,856.7 870.2,856.3 871.0,855.9 871.8,856.1 872.6,855.9 873.4,856.0 874.2,856.1 875.0,855.4 875.8,856.2 876.6,856.5 877.4,856.7 878.2,856.6 879.0,856.7 879.8,856.7 880.6,856.9 881.4,857.2 882.2,856.7 883.0,856.8 883.8,856.7 884.6,856.9 885.4,856.7 886.2,856.7 887.0,856.5 887.8,856.9 888.6,856.4 889.4,856.3 890.2,856.5 891.0,856.1 891.8,855.9 892.6,855.2 893.4,855.8 894.2,855.0 895.0,855.1 895.8,854.6 896.6,854.1 897.4,854.4 898.2,854.3 899.0,854.6 899.8,854.1 900.6,854.6 901.4,854.9 902.2,855.9 903.0,856.2 903.8,855.9 904.6,856.4 905.4,856.4 906.2,856.1 907.0,856.2 907.8,855.4 908.6,855.2 909.4,854.7 910.2,854.8 911.0,854.4 911.8,854.9 912.6,854.7 913.4,855.0 914.2,855.4 915.0,855.8 915.8,856.0 916.6,857.0 917.4,856.1 918.2,856.4 919.0,856.2 919.8,856.1 920.6,856.2 921.4,855.8 922.2,855.4 923.0,855.0 923.8,855.4 924.6,855.4 925.4,854.8 926.2,855.4 927.0,854.7 927.8,855.3 928.6,855.4 929.4,854.5 930.2,853.3 931.0,852.1 931.8,848.1 932.6,843.7 933.4,837.0 934.2,830.2 935.0,822.9 935.8,814.7 936.6,807.3 937.4,800.1 938.2,793.7 939.0,787.9 939.8,782.4 940.6,777.2 941.4,772.1 942.2,767.5 943.0,762.9 943.8,759.1 944.6,754.2 945.4,750.2 946.2,745.6 947.0,742.0 947.8,738.3 948.6,734.2 949.4,730.8 950.2,727.0 951.0,723.9 951.8,720.0 952.6,717.4 953.4,715.4 954.2,712.9 955.0,710.7 955.8,708.9 956.6,707.1 957.4,705.6 958.2,703.7 959.0,701.6 959.8,699.5 960.6,698.1 961.4,696.6 962.2,694.6 963.1,693.9 963.9,692.5 964.7,692.0 965.5,691.1 966.3,690.2 967.1,689.6 967.9,688.5 968.7,687.6 969.5,686.1 970.3,684.1 971.1,682.2 971.9,680.7 972.7,679.0 973.5,678.2 974.3,677.3 975.1,676.4 975.9,676.0 976.7,675.5 977.5,675.3 978.3,674.4 979.1,674.4 979.9,673.5 980.7,673.5 981.5,672.3 982.3,672.3 983.1,671.4 983.9,671.5 984.7,670.8 985.5,670.1 986.3,670.2 987.1,669.6 987.9,669.3 988.7,669.3 989.5,668.2 990.3,667.7 991.1,667.6 991.9,666.7 992.7,666.7 993.5,666.5 994.3,666.2 995.1,666.3 995.9,665.7 996.7,666.8 997.5,666.3 998.3,666.3 999.1,667.0 999.9,666.7 1000.7,665.8 1001.5,665.7 1002.3,665.1 1003.1,664.6 1003.9,664.7 1004.7,664.7 1005.5,665.1 1006.3,664.6 1007.1,665.0 1007.9,664.9 1008.7,665.1 1009.5,665.7 1010.3,665.0 1011.1,665.1 1011.9,665.0 1012.7,665.3 1013.5,664.9 1014.3,664.6 1015.1,664.3 1015.9,664.1 1016.7,663.4 1017.5,663.2 1018.3,662.9 1019.1,662.8 1019.9,662.2 1020.7,662.3 1021.5,663.0 1022.3,662.5 1023.1,662.4 1023.9,662.3 1024.7,662.8 1025.5,663.0 1026.3,663.4 1027.1,663.4 1027.9,663.9 1028.7,664.2 1029.5,664.4 1030.3,664.1 1031.1,664.2 1031.9,664.2 1032.7,663.3 1033.5,663.3 1034.3,662.7 1035.1,662.4 1035.9,662.0 1036.7,661.9 1037.5,662.3 1038.3,662.3 1039.1,662.7 1039.9,662.2 1040.7,662.6 1041.5,662.6 1042.3,663.1 1043.1,663.7 1043.9,662.9 1044.7,663.3 1045.5,663.2 1046.3,663.1 1047.1,662.8 1047.9,662.6 1048.7,662.9 1049.5,662.0 1050.3,662.2 1051.1,662.0 1051.9,661.5 1052.7,661.7 1053.5,662.1 1054.3,662.6 1055.1,662.3 1055.9,662.4 1056.7,662.8 1057.5,663.3 1058.3,663.3 1059.1,663.6 1059.9,663.4 1060.7,663.4 1061.5,663.5 1062.3,664.0 1063.1,663.9 1063.9,663.8 1064.7,664.0 1065.5,663.8 1066.3,662.9 1067.1,663.0 1067.9,662.2 1068.7,662.0 1069.5,661.3 1070.3,661.2 1071.1,660.5 1071.9,660.1 1072.7,660.2 1073.5,660.9 1074.3,661.6 1075.1,662.4 1075.9,663.1 1076.7,663.5 1077.5,663.5 1078.3,663.8 1079.1,663.2 1079.9,663.3 1080.7,663.1 1081.5,662.5 1082.3,662.3 1083.1,662.0 1083.9,661.3 1084.7,661.5 1085.5,661.4 1086.3,661.2 1087.1,661.2 1087.9,661.6 1088.7,661.1 1089.5,661.3 1090.3,661.3 1091.1,661.2 1091.9,661.7 1092.7,661.6 1093.5,661.7 1094.3,661.8 1095.1,662.4 1095.9,662.7 1096.7,662.7 1097.5,662.8 1098.3,663.1 1099.1,662.9 1099.9,663.2 1100.7,663.0 1101.5,662.7 1102.3,662.6 1103.1,662.5 1103.9,661.8 1104.7,662.2 1105.5,662.3 1106.3,661.9 1107.1,661.6 1107.9,661.9 1108.7,661.6 1109.5,661.8 1110.3,661.7 1111.1,661.6 1111.9,661.4 1112.7,660.8 1113.5,661.5 1114.3,661.0 1115.1,661.8 1115.9,661.8 1116.7,661.8 1117.5,662.1 1118.3,662.5 1119.1,663.2 1119.9,662.9 1120.7,663.4 1121.5,662.7 1122.3,663.4 1123.1,663.2 1123.9,663.4 1124.7,663.0 1125.5,662.9 1126.3,662.0 1127.1,661.9 1127.9,661.4 1128.7,661.4 1129.5,661.1 1130.3,660.5 1131.2,661.0 1132.0,661.2 1132.8,660.7 1133.6,661.2 1134.4,661.1 1135.2,660.8 1136.0,661.3 1136.8,661.0 1137.6,661.5 1138.4,661.1 1139.2,661.3 1140.0,661.9 1140.8,662.0 1141.6,662.4 1142.4,662.3 1143.2,662.2 1144.0,663.0 1144.8,662.4 1145.6,662.9 1146.4,662.6 1147.2,662.6 1148.0,661.5 1148.8,661.8 1149.6,661.6 1150.4,661.8 1151.2,661.4 1152.0,662.2 1152.8,661.8 1153.6,661.4 1154.4,662.0 1155.2,661.9 1156.0,661.6 1156.8,661.8 1157.6,661.4 1158.4,661.0 1159.2,661.1 1160.0,661.1 1160.8,661.4 1161.6,661.5 1162.4,662.0 1163.2,662.0 1164.0,662.6 1164.8,663.1 1165.6,663.8 1166.4,663.0 1167.2,662.9 1168.0,663.0 1168.8,663.0 1169.6,662.3 1170.4,661.4 1171.2,661.4 1172.0,660.6 1172.8,659.4 1173.6,657.6 1174.4,655.5 1175.2,652.0 1176.0,647.3 1176.8,641.0 1177.6,634.6 1178.4,628.0 1179.2,621.2 1180.0,614.0 1180.8,606.7 1181.6,600.2 1182.4,593.2 1183.2,586.9 1184.0,580.7 1184.8,574.7 1185.6,569.0 1186.4,563.9 1187.2,558.7 1188.0,553.2 1188.8,549.4 1189.6,544.9 1190.4,540.4 1191.2,536.8 1192.0,533.2 1192.8,529.8 1193.6,526.0 1194.4,522.6 1195.2,519.3 1196.0,516.5 1196.8,513.2 1197.6,510.7 1198.4,507.5 1199.2,504.9 1200.0,502.0 1200.8,499.4 1201.6,497.0 1202.4,495.4 1203.2,493.0 1204.0,491.7 1204.8,490.2 1205.6,488.5 1206.4,487.3 1207.2,485.4 1208.0,483.7 1208.8,482.1 1209.6,480.2 1210.4,478.7 1211.2,476.9 1212.0,475.6 1212.8,473.8 1213.6,472.6 1214.4,471.2 1215.2,469.9 1216.0,468.7 1216.8,468.1 1217.6,467.1 1218.4,465.9 1219.2,464.9 1220.0,464.1 1220.8,463.1 1221.6,462.2 1222.4,461.6 1223.2,460.8 1224.0,460.2 1224.8,459.3 1225.6,458.3 1226.4,457.3 1227.2,456.7 1228.0,456.2 1228.8,455.8 1229.6,455.4 1230.4,455.3 1231.2,455.2 1232.0,455.1 1232.8,455.2 1233.6,455.2 1234.4,454.6 1235.2,454.4 1236.0,454.2 1236.8,453.8 1237.6,452.7 1238.4,452.9 1239.2,452.2 1240.0,451.5 1240.8,451.2 1241.6,450.3 1242.4,449.3 1243.2,449.0 1244.0,448.7 1244.8,448.4 1245.6,448.3 1246.4,447.8 1247.2,447.9 1248.0,447.7 1248.8,447.2 1249.6,446.6 1250.4,446.3 1251.2,445.7 1252.0,445.8 1252.8,444.6 1253.6,444.0 1254.4,444.0 1255.2,444.3 1256.0,444.4 1256.8,444.2 1257.6,444.7 1258.4,444.5 1259.2,445.0 1260.0,444.9 1260.8,445.0 1261.6,446.1 1262.4,445.6 1263.2,445.9 1264.0,446.0 1264.8,445.6 1265.6,445.2 1266.4,444.5 1267.2,444.7 1268.0,443.7 1268.8,443.1 1269.6,443.2 1270.4,443.2 1271.2,443.3 1272.0,443.8 1272.8,443.6 1273.6,443.9 1274.4,444.2 1275.2,444.0 1276.0,444.8 1276.8,445.1 1277.6,444.9 1278.4,445.6 1279.2,445.4 1280.0,444.8 1280.8,444.3 1281.6,443.2 1282.4,442.7 1283.2,441.4 1284.0,440.7 1284.8,440.4 1285.6,440.5 1286.4,440.4 1287.2,440.6 1288.0,441.5 1288.8,441.6 1289.6,442.0 1290.4,442.4 1291.2,442.2 1292.0,442.3 1292.8,442.7 1293.6,442.3 1294.4,442.3 1295.2,441.8 1296.0,442.1 1296.8,441.6 1297.6,441.8 1298.5,441.7 1299.3,442.0 1300.1,442.3 1300.9,441.5 1301.7,441.7 1302.5,441.1 1303.3,441.1 1304.1,440.7 1304.9,440.2 1305.7,440.5 1306.5,440.3 1307.3,441.1 1308.1,440.8 1308.9,441.4 1309.7,441.7 1310.5,441.8 1311.3,441.9 1312.1,441.5 1312.9,442.2 1313.7,441.5 1314.5,441.5 1315.3,440.8 1316.1,441.1 1316.9,440.9 1317.7,441.3 1318.5,441.3 1319.3,441.6 1320.1,442.4 1320.9,442.7 1321.7,443.4 1322.5,443.3 1323.3,443.4 1324.1,443.9 1324.9,443.5 1325.7,444.2 1326.5,444.0 1327.3,443.6 1328.1,442.9 1328.9,442.4 1329.7,441.9 1330.5,441.4 1331.3,440.8 1332.1,440.7 1332.9,440.7 1333.7,440.6 1334.5,439.7 1335.3,440.8 1336.1,440.4 1336.9,440.1 1337.7,440.5 1338.5,441.0 1339.3,440.9 1340.1,440.9 1340.9,440.9 1341.7,441.6 1342.5,441.3 1343.3,441.5 1344.1,441.4 1344.9,441.3 1345.7,441.8 1346.5,442.1 1347.3,441.6 1348.1,441.3 1348.9,441.5 1349.7,441.6 1350.5,441.0 1351.3,441.8 1352.1,441.4 1352.9,441.9 1353.7,441.9 1354.5,442.1 1355.3,442.0 1356.1,442.8 1356.9,442.8 1357.7,443.0 1358.5,442.4 1359.3,442.3 1360.1,441.7 1360.9,441.6 1361.7,441.1 1362.5,440.4 1363.3,440.4 1364.1,440.2 1364.9,440.3 1365.7,440.6 1366.5,441.1 1367.3,440.7 1368.1,441.1 1368.9,441.1 1369.7,441.9 1370.5,441.8 1371.3,441.9 1372.1,441.6 1372.9,441.1 1373.7,441.3 1374.5,441.4 1375.3,441.4 1376.1,441.3 1376.9,441.6 1377.7,441.5 1378.5,441.5 1379.3,442.0 1380.1,441.5 1380.9,440.9 1381.7,441.2 1382.5,441.0 1383.3,441.0 1384.1,441.0 1384.9,440.6 1385.7,441.0 1386.5,441.3 1387.3,442.0 1388.1,441.5 1388.9,441.8 1389.7,441.8 1390.5,441.1 1391.3,441.0 1392.1,441.6 1392.9,440.8 1393.7,440.9 1394.5,441.3 1395.3,441.2 1396.1,442.1 1396.9,442.3 1397.7,442.7 1398.5,443.0 1399.3,442.7 1400.1,443.3 1400.9,443.2 1401.7,443.0 1402.5,442.5 1403.3,442.3 1404.1,441.6 1404.9,441.5 1405.7,441.2 1406.5,440.6 1407.3,440.1 1408.1,440.1 1408.9,439.6 1409.7,439.2 1410.5,439.9 1411.3,440.0 1412.1,440.1 1412.9,440.9 1413.7,441.2 1414.5,441.2 1415.3,440.5 1416.1,439.5 1416.9,437.9 1417.7,435.1 1418.5,431.1 1419.3,426.4 1420.1,421.3 1420.9,414.9 1421.7,408.5 1422.5,402.0 1423.3,395.9 1424.1,389.8 1424.9,383.8 1425.7,378.4 1426.5,372.5 1427.3,367.4 1428.1,362.1 1428.9,357.7 1429.7,352.9 1430.5,348.6 1431.3,344.3 1432.1,339.7 1432.9,336.0 1433.7,332.0 1434.5,328.8 1435.3,325.1 1436.1,322.4 1436.9,319.3 1437.7,316.6 1438.5,313.8 1439.3,311.5 1440.1,309.1 1440.9,306.4 1441.7,304.0 1442.5,301.2 1443.3,298.4 1444.1,295.9 1444.9,293.4 1445.7,290.8 1446.5,288.8 1447.3,286.7 1448.1,284.8 1448.9,283.4 1449.7,282.3 1450.5,281.2 1451.3,279.6 1452.1,278.4 1452.9,276.7 1453.7,275.7 1454.5,274.2 1455.3,272.6 1456.1,271.4 1456.9,269.9 1457.7,268.0 1458.5,266.7 1459.3,265.5 1460.1,264.3 1460.9,263.4 1461.7,262.0 1462.5,261.2 1463.3,260.3 1464.1,259.7 1464.9,259.0 1465.7,258.4 1466.5,257.6 1467.4,256.7 1468.2,256.3 1469.0,256.1 1469.8,255.1 1470.6,254.5 1471.4,253.4 1472.2,252.1 1473.0,251.2 1473.8,250.4 1474.6,249.2 1475.4,248.5 1476.2,247.8 1477.0,247.0 1477.8,246.4 1478.6,245.6 1479.4,246.1 1480.2,245.5 1481.0,245.5 1481.8,245.9 1482.6,245.9 1483.4,245.9 1484.2,245.5 1485.0,245.0 1485.8,244.8 1486.6,244.2 1487.4,243.8 1488.2,243.7 1489.0,243.6 1489.8,243.7 1490.6,243.6 1491.4,244.0 1492.2,243.7 1493.0,243.7 1493.8,243.9 1494.6,243.0 1495.4,243.5 1496.2,243.2 1497.0,242.6 1497.8,242.9 1498.6,242.4 1499.4,242.4 1500.2,242.1 1501.0,241.9 1501.8,241.7 1502.6,241.4 1503.4,241.4 1504.2,241.2 1505.0,241.1 1505.8,241.1 1506.6,240.5 1507.4,240.7 1508.2,240.5 1509.0,239.8 1509.8,239.9 1510.6,240.0 1511.4,239.9 1512.2,239.8 1513.0,240.4 1513.8,240.1 1514.6,240.3 1515.4,239.9 1516.2,240.0 1517.0,239.3 1517.8,239.3 1518.6,239.5 1519.4,239.1 1520.2,239.2 1521.0,238.7 1521.8,238.4 1522.6,238.3 1523.4,238.8 1524.2,238.3 1525.0,238.1 1525.8,238.2 1526.6,238.0 1527.4,238.7 1528.2,238.3 1529.0,238.7 1529.8,238.6 1530.6,238.6 1531.4,238.5 1532.2,238.9 1533.0,238.7 1533.8,239.0 1534.6,239.1 1535.4,238.6 1536.2,238.8 1537.0,239.2 1537.8,239.0 1538.6,238.8 1539.4,238.3 1540.2,238.2 1541.0,238.0 1541.8,238.3 1542.6,237.5 1543.4,237.1 1544.2,236.8 1545.0,236.5 1545.8,236.5 1546.6,236.0 1547.4,236.1 1548.2,236.6 1549.0,236.9 1549.8,236.2 1550.6,236.9 1551.4,236.4 1552.2,236.1 1553.0,236.6 1553.8,236.1 1554.6,236.1 1555.4,235.7 1556.2,235.5 1557.0,235.0 1557.8,235.2 1558.6,235.3 1559.4,235.1 1560.2,235.5 1561.0,235.7 1561.8,235.3 1562.6,236.3 1563.4,236.5 1564.2,236.6 1565.0,237.0 1565.8,237.4 1566.6,236.5 1567.4,236.8 1568.2,236.5 1569.0,236.2 1569.8,236.1 1570.6,236.0 1571.4,235.8 1572.2,235.5 1573.0,236.3 1573.8,236.8 1574.6,237.7 1575.4,237.7 1576.2,238.1 1577.0,237.5 1577.8,237.3 1578.6,236.7 1579.4,236.0 1580.2,235.4 1581.0,235.0 1581.8,234.0 1582.6,234.3 1583.4,234.2 1584.2,234.2 1585.0,234.5 1585.8,234.6 1586.6,234.8 1587.4,235.3 1588.2,235.5 1589.0,235.8 1589.8,235.7 1590.6,236.6 1591.4,236.2 1592.2,236.7 1593.0,237.0 1593.8,237.0 1594.6,237.3 1595.4,237.2 1596.2,237.2 1597.0,238.0 1597.8,237.3 1598.6,236.6 1599.4,236.5 1600.2,236.1 1601.0,236.1 1601.8,236.3 1602.6,236.2 1603.4,235.9 1604.2,236.1 1605.0,236.9 1605.8,237.3 1606.6,237.5 1607.4,238.4 1608.2,238.2 1609.0,237.8 1609.8,237.5 1610.6,237.9 1611.4,237.2 1612.2,237.4 1613.0,237.2 1613.8,237.2 1614.6,236.1 1615.4,236.2 1616.2,235.3 1617.0,235.6 1617.8,235.5 1618.6,235.9 1619.4,235.1 1620.2,235.6 1621.0,235.7 1621.8,236.3 1622.6,235.7 1623.4,235.9 1624.2,236.5 1625.0,236.5 1625.8,236.6 1626.6,236.5 1627.4,236.8 1628.2,236.3 1629.0,236.6 1629.8,236.5 1630.6,236.1 1631.4,236.3 1632.2,235.6 1633.0,235.0 1633.8,235.2 1634.6,235.6 1635.5,235.7 1636.3,236.6 1637.1,236.6 1637.9,236.8 1638.7,237.0 1639.5,237.4 1640.3,236.9 1641.1,236.5 1641.9,236.8 1642.7,236.2 1643.5,236.5 1644.3,236.4 1645.1,235.7 1645.9,235.9 1646.7,235.9 1647.5,236.3 1648.3,236.4 1649.1,236.4 1649.9,236.4 1650.7,237.0 1651.5,237.5 1652.3,236.9 1653.1,237.0 1653.9,237.0 1654.7,237.0 1655.5,236.2 1656.3,236.3 1657.1,235.0 1657.9,232.2 1658.7,226.8 1659.5,221.7 1660.3,216.6 1661.1,212.1 1661.9,208.3 1662.7,203.8 1663.5,200.7 1664.3,196.9 1665.1,193.0 1665.9,189.6 1666.7,185.3 1667.5,181.5 1668.3,178.1 1669.1,174.2 1669.9,171.6 1670.7,168.8 1671.5,166.8 1672.3,165.0 1673.1,162.9 1673.9,161.0 1674.7,159.2 1675.5,156.9 1676.3,155.4 1677.1,152.7 1677.9,150.3 1678.7,147.1 1679.5,145.3 1680.3,143.2 1681.1,141.7 1681.9,139.9 1682.7,139.1 1683.5,138.0 1684.3,137.7 1685.1,135.9 1685.9,135.0 1686.7,133.6 1687.5,131.9 1688.3,130.6 1689.1,128.9 1689.9,127.1 1690.7,125.6 1691.5,124.5 1692.3,123.4 1693.1,122.7 1693.9,121.6 1694.7,120.9 1695.5,120.5 1696.3,119.4 1697.1,119.5 1697.9,118.3 1698.7,117.0 1699.5,116.6 1700.3,115.9 1701.1,114.2 1701.9,113.4 1702.7,112.9 1703.5,111.4 1704.3,110.8 1705.1,109.9 1705.9,108.7 1706.7,107.8 1707.5,107.0 1708.3,105.9 1709.1,105.3 1709.9,104.3 1710.7,103.7 1711.5,103.0 1712.3,102.9 1713.1,102.9 1713.9,102.8 1714.7,102.3 1715.5,101.7 1716.3,101.6 1717.1,101.4 1717.9,100.3 1718.7,100.0 1719.5,98.5 1720.3,97.9 1721.1,96.7 1721.9,96.0 1722.7,95.7 1723.5,95.3 1724.3,95.6 1725.1,95.3 1725.9,95.1 1726.7,94.4 1727.5,95.1 1728.3,95.0 1729.1,94.8 1729.9,93.8 1730.7,93.9 1731.5,93.2 1732.3,92.3 1733.1,92.3 1733.9,91.2 1734.7,91.0 1735.5,91.1 1736.3,90.9 1737.1,90.8 1737.9,90.5 1738.7,89.6 1739.5,89.2 1740.3,88.9 1741.1,88.6 1741.9,88.6 1742.7,88.2 1743.5,88.8 1744.3,88.6 1745.1,88.6 1745.9,88.9 1746.7,89.5 1747.5,89.6 1748.3,89.0 1749.1,88.5 1749.9,88.6 1750.7,87.6 1751.5,86.6 1752.3,85.6 1753.1,85.4 1753.9,84.6 1754.7,84.5 1755.5,83.8 1756.3,84.4 1757.1,84.7 1757.9,84.9 1758.7,84.7 1759.5,84.9 1760.3,85.4 1761.1,85.2 1761.9,85.5 1762.7,85.4 1763.5,85.5 1764.3,85.4 1765.1,85.3 1765.9,85.3 1766.7,84.9 1767.5,84.8 1768.3,85.1 1769.1,85.3 1769.9,84.8 1770.7,85.5 1771.5,85.5 1772.3,84.9 1773.1,84.9 1773.9,84.9 1774.7,85.1 1775.5,85.4 1776.3,85.1 1777.1,84.8 1777.9,84.9 1778.7,84.7 1779.5,84.6 1780.3,84.2 1781.1,83.3 1781.9,83.0 1782.7,83.0 1783.5,82.6 1784.3,82.3 1785.1,81.8 1785.9,82.2 1786.7,82.0 1787.5,82.6 1788.3,82.5 1789.1,82.3 1789.9,82.3 1790.7,82.9 1791.5,83.0 1792.3,82.7 1793.1,83.0 1793.9,83.1 1794.7,82.9 1795.5,82.9 1796.3,82.7 1797.1,82.7 1797.9,83.0 1798.7,82.7 1799.5,82.5 1800.3,82.5 1801.1,82.0 1801.9,81.1 1802.8,81.3 1803.6,80.3 1804.4,80.1 1805.2,80.0 1806.0,79.8 1806.8,79.9 1807.6,79.9 1808.4,80.6 1809.2,81.0 1810.0,81.3 1810.8,81.1 1811.6,81.6 1812.4,82.2 1813.2,82.1 1814.0,82.2 1814.8,81.9 1815.6,81.7 1816.4,80.9 1817.2,81.6 1818.0,80.6 1818.8,80.3 1819.6,80.3 1820.4,79.9 1821.2,79.8 1822.0,79.6 1822.8,79.4 1823.6,80.1 1824.4,79.6 1825.2,80.2 1826.0,79.9 1826.8,80.4 1827.6,80.3 1828.4,80.5 1829.2,80.4 1830.0,80.7 1830.8,80.9 1831.6,80.5 1832.4,80.6 1833.2,80.3 1834.0,81.3 1834.8,81.0 1835.6,80.8 1836.4,81.5 1837.2,81.4 1838.0,81.0 1838.8,81.3 1839.6,82.0 1840.4,81.6 1841.2,81.7 1842.0,81.9 1842.8,82.0 1843.6,82.0 1844.4,82.2 1845.2,82.1 1846.0,81.7 1846.8,81.7 1847.6,81.2 1848.4,81.6 1849.2,81.9 1850.0,81.3 1850.8,81.1 1851.6,80.9 1852.4,80.9 1853.2,81.1 1854.0,80.5 1854.8,81.0 1855.6,80.6 1856.4,80.8 1857.2,81.0 1858.0,80.3 1858.8,81.1 1859.6,80.7 1860.4,80.2 1861.2,80.3 1862.0,80.0 1862.8,80.1 1863.6,80.1 1864.4,79.4 1865.2,79.9 1866.0,79.9 1866.8,80.1 1867.6,80.0 1868.4,79.7 1869.2,79.8 1870.0,80.0 1870.8,80.2 1871.6,79.9 1872.4,80.5 1873.2,80.2 1874.0,80.2 1874.8,80.3 1875.6,80.0 1876.4,80.2 1877.2,80.3 1878.0,79.7 1878.8,80.0 1879.6,80.0 1880.4,80.4 1881.2,80.4 1882.0,80.6 1882.8,80.7 1883.6,80.7 1884.4,81.6 1885.2,81.7 1886.0,82.0 1886.8,83.1" stroke="#3366ff" stroke-width="6.6"/>
<path d="M 205.8,896.1 L 206.6,903.0 207.4,910.3 208.2,917.2 209.0,923.9 209.8,930.5 210.6,937.5 211.4,944.4 212.2,950.5 213.0,957.4 213.8,963.0 214.6,968.7 215.4,974.6 216.2,980.0 217.0,985.5 217.8,990.8 218.6,996.1 219.4,1001.6 220.2,1006.6 221.0,1011.6 221.8,1016.4 222.6,1021.4 223.4,1026.9 224.2,1032.3 225.0,1037.5 225.8,1042.5 226.6,1047.2 227.4,1052.4 228.2,1057.2 229.0,1062.0 229.8,1065.9 230.6,1070.1 231.4,1074.1 232.2,1077.9 233.0,1081.1 233.8,1085.1 234.6,1088.2 235.4,1091.8 236.2,1095.5 237.0,1098.7 237.8,1102.3 238.6,1105.8 239.4,1109.0 240.2,1112.4 241.0,1115.3 241.8,1118.7 242.6,1121.7 243.4,1124.8 244.2,1129.0 245.0,1131.3 245.8,1134.9 246.6,1137.5 247.4,1140.6 248.2,1143.2 249.0,1145.5 249.8,1148.5 250.6,1150.2 251.4,1152.1 252.2,1154.3 253.0,1155.4 253.8,1157.2 254.6,1159.0 255.4,1160.9 256.2,1162.0 257.0,1165.0 257.8,1167.6 258.6,1169.6 259.4,1171.6 260.2,1173.8 261.0,1175.7 261.8,1177.8 262.6,1179.1 263.4,1181.0 264.2,1182.8 265.0,1184.1 265.8,1185.4 266.6,1186.5 267.4,1187.9 268.2,1189.4 269.0,1190.5 269.8,1191.7 270.6,1192.6 271.4,1194.5 272.2,1195.5 273.0,1196.6 273.8,1198.2 274.6,1199.0 275.4,1200.0 276.2,1201.0 277.0,1201.5 277.8,1202.1 278.6,1202.7 279.4,1203.6 280.2,1204.1 281.0,1204.3 281.8,1205.8 282.6,1206.3 283.4,1207.0 284.2,1208.0 285.0,1208.7 285.8,1209.6 286.6,1210.1 287.4,1210.6 288.2,1211.5 289.0,1211.8 289.9,1212.3 290.7,1212.7 291.5,1213.0 292.3,1213.6 293.1,1213.5 293.9,1213.7 294.7,1214.1 295.5,1214.6 296.3,1215.6 297.1,1215.5 297.9,1216.6 298.7,1216.9 299.5,1217.0 300.3,1218.1 301.1,1218.1 301.9,1218.6 302.7,1219.0 303.5,1219.4 304.3,1219.3 305.1,1219.6 305.9,1219.3 306.7,1219.3 307.5,1219.9 308.3,1219.6 309.1,1219.5 309.9,1219.7 310.7,1219.7 311.5,1219.6 312.3,1219.9 313.1,1220.6 313.9,1220.9 314.7,1221.1 315.5,1222.0 316.3,1222.2 317.1,1221.8 317.9,1221.7 318.7,1222.1 319.5,1221.6 320.3,1220.6 321.1,1220.5 321.9,1219.9 322.7,1219.9 323.5,1219.8 324.3,1221.0 325.1,1221.5 325.9,1222.0 326.7,1222.2 327.5,1223.2 328.3,1224.1 329.1,1224.0 329.9,1224.2 330.7,1224.5 331.5,1224.5 332.3,1224.2 333.1,1223.9 333.9,1223.9 334.7,1223.6 335.5,1223.5 336.3,1223.3 337.1,1223.2 337.9,1222.8 338.7,1222.9 339.5,1222.8 340.3,1222.6 341.1,1222.8 341.9,1222.9 342.7,1223.7 343.5,1223.3 344.3,1223.8 345.1,1224.0 345.9,1224.2 346.7,1223.8 347.5,1224.1 348.3,1224.6 349.1,1224.8 349.9,1224.6 350.7,1224.8 351.5,1224.4 352.3,1225.2 353.1,1225.3 353.9,1224.9 354.7,1224.8 355.5,1224.7 356.3,1224.5 357.1,1224.1 357.9,1224.6 358.7,1224.5 359.5,1224.8 360.3,1224.2 361.1,1224.0 361.9,1224.3 362.7,1223.9 363.5,1224.1 364.3,1223.8 365.1,1224.0 365.9,1224.3 366.7,1224.2 367.5,1224.5 368.3,1224.6 369.1,1224.2 369.9,1224.2 370.7,1224.1 371.5,1224.9 372.3,1225.1 373.1,1225.5 373.9,1225.2 374.7,1225.4 375.5,1225.7 376.3,1225.3 377.1,1225.2 377.9,1225.7 378.7,1224.9 379.5,1224.9 380.3,1225.0 381.1,1224.9 381.9,1224.4 382.7,1224.4 383.5,1224.3 384.3,1225.0 385.1,1224.8 385.9,1224.3 386.7,1224.7 387.5,1224.5 388.3,1224.8 389.1,1224.0 389.9,1224.4 390.7,1225.0 391.5,1225.7 392.3,1226.6 393.1,1227.3 393.9,1227.7 394.7,1228.6 395.5,1228.4 396.3,1228.9 397.1,1228.8 397.9,1227.9 398.7,1227.8 399.5,1227.2 400.3,1227.0 401.1,1227.2 401.9,1226.3 402.7,1226.8 403.5,1226.2 404.3,1227.0 405.1,1227.1 405.9,1226.7 406.7,1226.7 407.5,1226.7 408.3,1226.9 409.1,1226.4 409.9,1226.8 410.7,1226.5 411.5,1226.5 412.3,1226.3 413.1,1226.0 413.9,1226.3 414.7,1226.0 415.5,1225.9 416.3,1226.5 417.1,1226.2 417.9,1225.9 418.7,1225.9 419.5,1225.5 420.3,1226.0 421.1,1225.3 421.9,1225.2 422.7,1225.5 423.5,1225.8 424.3,1225.5 425.1,1225.7 425.9,1225.6 426.7,1225.8 427.5,1225.8 428.3,1226.2 429.1,1225.8 429.9,1226.9 430.7,1226.7 431.5,1226.4 432.3,1227.0 433.1,1226.5 433.9,1227.1 434.7,1226.8 435.5,1227.0 436.3,1226.7 437.1,1226.4 437.9,1226.1 438.7,1225.8 439.5,1224.9 440.3,1225.0 441.1,1225.0 441.9,1224.4 442.7,1224.4 443.5,1224.4 444.3,1224.4 445.1,1225.1 445.9,1224.5 446.7,1223.9 447.5,1223.2 448.3,1221.4 449.1,1219.7 449.9,1215.8 450.7,1211.1 451.5,1207.2 452.3,1201.8 453.1,1196.2 453.9,1190.7 454.7,1185.0 455.5,1180.5 456.3,1174.9 457.1,1169.8 458.0,1165.7 458.8,1160.9 459.6,1156.2 460.4,1152.4 461.2,1148.8 462.0,1146.1 462.8,1142.2 463.6,1139.1 464.4,1136.4 465.2,1133.7 466.0,1130.4 466.8,1128.6 467.6,1126.2 468.4,1123.3 469.2,1120.8 470.0,1118.0 470.8,1115.2 471.6,1112.2 472.4,1109.8 473.2,1107.7 474.0,1105.3 474.8,1103.2 475.6,1101.7 476.4,1099.8 477.2,1098.4 478.0,1097.5 478.8,1095.8 479.6,1094.1 480.4,1092.8 481.2,1091.9 482.0,1090.3 482.8,1089.4 483.6,1088.2 484.4,1086.5 485.2,1085.3 486.0,1084.0 486.8,1082.9 487.6,1081.7 488.4,1080.9 489.2,1079.7 490.0,1078.7 490.8,1078.2 491.6,1077.3 492.4,1077.3 493.2,1076.5 494.0,1075.4 494.8,1074.9 495.6,1074.8 496.4,1074.5 497.2,1074.4 498.0,1073.6 498.8,1073.0 499.6,1073.0 500.4,1071.9 501.2,1071.3 502.0,1070.7 502.8,1070.5 503.6,1069.5 504.4,1069.4 505.2,1068.3 506.0,1068.2 506.8,1068.2 507.6,1067.4 508.4,1067.3 509.2,1067.5 510.0,1066.7 510.8,1067.3 511.6,1066.8 512.4,1066.4 513.2,1067.0 514.0,1066.1 514.8,1066.1 515.6,1065.9 516.4,1065.9 517.2,1065.4 518.0,1065.5 518.8,1065.3 519.6,1064.9 520.4,1064.9 521.2,1064.1 522.0,1064.6 522.8,1064.3 523.6,1064.1 524.4,1063.9 525.2,1063.6 526.0,1063.6 526.8,1063.8 527.6,1063.8 528.4,1063.7 529.2,1063.5 530.0,1063.5 530.8,1063.8 531.6,1064.2 532.4,1063.1 533.2,1063.4 534.0,1063.5 534.8,1063.4 535.6,1063.5 536.4,1063.5 537.2,1063.2 538.0,1063.0 538.8,1062.9 539.6,1063.0 540.4,1062.6 541.2,1062.3 542.0,1062.6 542.8,1062.5 543.6,1063.1 544.4,1062.8 545.2,1062.9 546.0,1063.3 546.8,1063.6 547.6,1063.3 548.4,1063.7 549.2,1063.5 550.0,1063.7 550.8,1063.3 551.6,1063.3 552.4,1063.2 553.2,1062.4 554.0,1061.9 554.8,1061.2 555.6,1061.1 556.4,1060.8 557.2,1060.3 558.0,1060.3 558.8,1060.6 559.6,1060.9 560.4,1061.3 561.2,1061.5 562.0,1061.7 562.8,1062.0 563.6,1062.1 564.4,1062.0 565.2,1061.3 566.0,1061.8 566.8,1061.7 567.6,1061.7 568.4,1061.6 569.2,1061.5 570.0,1061.9 570.8,1062.1 571.6,1061.6 572.4,1062.1 573.2,1061.6 574.0,1061.6 574.8,1061.3 575.6,1061.2 576.4,1061.4 577.2,1061.6 578.0,1061.7 578.8,1061.7 579.6,1061.5 580.4,1062.0 581.2,1061.5 582.0,1061.5 582.8,1061.3 583.6,1061.5 584.4,1061.3 585.2,1061.4 586.0,1061.3 586.8,1061.7 587.6,1061.3 588.4,1061.1 589.2,1061.6 590.0,1061.8 590.8,1062.3 591.6,1061.8 592.4,1062.4 593.2,1062.0 594.0,1061.9 594.8,1061.9 595.6,1061.0 596.4,1060.9 597.2,1060.6 598.0,1060.4 598.8,1060.5 599.6,1060.8 600.4,1060.9 601.2,1061.5 602.0,1061.7 602.8,1062.1 603.6,1062.4 604.4,1062.1 605.2,1061.7 606.0,1061.2 606.8,1060.5 607.6,1060.9 608.4,1060.3 609.2,1061.0 610.0,1061.0 610.8,1061.3 611.6,1062.3 612.4,1062.7 613.2,1062.8 614.0,1063.2 614.8,1063.5 615.6,1063.7 616.4,1062.9 617.2,1063.2 618.0,1063.1 618.8,1062.2 619.6,1062.0 620.4,1061.9 621.2,1061.1 622.0,1061.0 622.8,1060.6 623.6,1060.5 624.4,1060.6 625.2,1060.1 626.0,1060.4 626.9,1060.9 627.7,1061.0 628.5,1060.9 629.3,1061.5 630.1,1061.6 630.9,1061.6 631.7,1061.9 632.5,1062.4 633.3,1062.0 634.1,1061.9 634.9,1061.8 635.7,1061.4 636.5,1061.5 637.3,1061.2 638.1,1060.8 638.9,1061.1 639.7,1060.5 640.5,1060.6 641.3,1061.0 642.1,1061.1 642.9,1061.6 643.7,1062.3 644.5,1062.0 645.3,1062.3 646.1,1062.2 646.9,1062.0 647.7,1061.4 648.5,1061.4 649.3,1061.5 650.1,1061.1 650.9,1061.2 651.7,1061.8 652.5,1062.2 653.3,1062.6 654.1,1063.1 654.9,1063.2 655.7,1063.2 656.5,1063.0 657.3,1063.0 658.1,1062.7 658.9,1062.3 659.7,1061.9 660.5,1062.0 661.3,1061.5 662.1,1061.5 662.9,1061.7 663.7,1061.8 664.5,1062.0 665.3,1062.0 666.1,1062.3 666.9,1061.8 667.7,1061.8 668.5,1061.6 669.3,1061.3 670.1,1061.0 670.9,1061.1 671.7,1060.7 672.5,1060.9 673.3,1060.9 674.1,1060.7 674.9,1059.9 675.7,1060.7 676.5,1060.4 677.3,1060.4 678.1,1061.3 678.9,1061.1 679.7,1061.4 680.5,1061.9 681.3,1061.6 682.1,1061.9 682.9,1061.8 683.7,1061.0 684.5,1060.7 685.3,1060.3 686.1,1059.7 686.9,1058.3 687.7,1058.5 688.5,1057.8 689.3,1057.2 690.1,1055.8 690.9,1054.1 691.7,1051.6 692.5,1048.6 693.3,1044.7 694.1,1040.0 694.9,1035.0 695.7,1029.7 696.5,1025.0 697.3,1019.9 698.1,1015.5 698.9,1011.1 699.7,1006.9 700.5,1002.3 701.3,998.5 702.1,993.8 702.9,989.0 703.7,985.0 704.5,980.5 705.3,976.7 706.1,972.9 706.9,969.0 707.7,965.6 708.5,962.2 709.3,959.3 710.1,957.6 710.9,955.3 711.7,953.2 712.5,951.3 713.3,949.6 714.1,947.4 714.9,945.4 715.7,943.5 716.5,942.0 717.3,939.9 718.1,938.6 718.9,936.2 719.7,935.1 720.5,933.4 721.3,932.0 722.1,930.7 722.9,929.5 723.7,928.5 724.5,926.6 725.3,926.0 726.1,925.0 726.9,923.5 727.7,923.0 728.5,921.7 729.3,920.5 730.1,918.9 730.9,917.8 731.7,916.5 732.5,915.5 733.3,914.4 734.1,913.4 734.9,913.6 735.7,912.7 736.5,912.5 737.3,912.2 738.1,912.2 738.9,911.1 739.7,910.9 740.5,909.9 741.3,909.2 742.1,908.6 742.9,907.5 743.7,907.1 744.5,906.4 745.3,905.9 746.1,905.6 746.9,905.5 747.7,905.7 748.5,905.2 749.3,905.9 750.1,906.5 750.9,906.6 751.7,906.8 752.5,906.8 753.3,906.8 754.1,906.7 754.9,905.6 755.7,905.4 756.5,904.8 757.3,903.9 758.1,903.1 758.9,902.1 759.7,901.8 760.5,901.3 761.3,902.2 762.1,901.4 762.9,901.4 763.7,901.3 764.5,902.0 765.3,902.5 766.1,902.0 766.9,902.2 767.7,902.4 768.5,901.9 769.3,901.3 770.1,900.9 770.9,900.6 771.7,900.5 772.5,899.2 773.3,899.7 774.1,899.1 774.9,899.2 775.7,898.5 776.5,898.9 777.3,899.1 778.1,899.6 778.9,899.9 779.7,900.1 780.5,900.6 781.3,899.9 782.1,899.6 782.9,899.6 783.7,899.2 784.5,898.8 785.3,898.2 786.1,898.3 786.9,898.4 787.7,898.6 788.5,899.0 789.3,899.0 790.1,899.1 790.9,899.4 791.7,899.6 792.5,899.6 793.3,899.8 794.2,899.9 795.0,899.9 795.8,899.9 796.6,899.8 797.4,899.5 798.2,899.7 799.0,898.7 799.8,899.1 800.6,898.4 801.4,898.5 802.2,898.3 803.0,898.8 803.8,899.2 804.6,899.0 805.4,899.4 806.2,899.5 807.0,899.4 807.8,899.0 808.6,898.8 809.4,898.6 810.2,898.6 811.0,898.0 811.8,897.6 812.6,897.1 813.4,897.3 814.2,897.5 815.0,897.2 815.8,897.7 816.6,897.8 817.4,897.9 818.2,898.5 819.0,898.1 819.8,898.3 820.6,898.6 821.4,898.9 822.2,898.6 823.0,898.3 823.8,898.8 824.6,898.8 825.4,898.3 826.2,898.7 827.0,898.7 827.8,898.2 828.6,898.2 829.4,898.0 830.2,898.1 831.0,897.9 831.8,898.1 832.6,898.3 833.4,898.4 834.2,898.3 835.0,898.4 835.8,898.6 836.6,898.8 837.4,899.7 838.2,899.1 839.0,898.8 839.8,898.4 840.6,898.6 841.4,897.7 842.2,897.8 843.0,897.9 843.8,897.8 844.6,898.1 845.4,898.4 846.2,898.4 847.0,898.8 847.8,899.2 848.6,899.0 849.4,898.8 850.2,898.8 851.0,898.1 851.8,898.4 852.6,897.6 853.4,897.8 854.2,898.4 855.0,898.3 855.8,898.4 856.6,899.0 857.4,899.6 858.2,899.4 859.0,899.1 859.8,899.9 860.6,899.3 861.4,899.2 862.2,899.0 863.0,898.8 863.8,898.6 864.6,898.1 865.4,898.0 866.2,898.3 867.0,897.7 867.8,898.4 868.6,898.0 869.4,898.2 870.2,898.2 871.0,898.6 871.8,898.6 872.6,899.1 873.4,899.0 874.2,899.3 875.0,898.9 875.8,899.5 876.6,899.0 877.4,899.1 878.2,899.0 879.0,899.2 879.8,898.9 880.6,899.4 881.4,899.4 882.2,899.0 883.0,899.6 883.8,898.9 884.6,899.2 885.4,898.9 886.2,898.7 887.0,898.3 887.8,898.3 888.6,898.1 889.4,897.9 890.2,897.7 891.0,897.8 891.8,898.0 892.6,898.5 893.4,899.0 894.2,899.5 895.0,899.1 895.8,899.1 896.6,899.3 897.4,898.9 898.2,898.5 899.0,898.6 899.8,898.1 900.6,898.0 901.4,898.2 902.2,897.7 903.0,897.5 903.8,897.1 904.6,897.4 905.4,897.2 906.2,897.4 907.0,897.2 907.8,897.3 908.6,897.3 909.4,897.6 910.2,898.0 911.0,898.4 911.8,898.8 912.6,899.2 913.4,899.2 914.2,900.4 915.0,900.1 915.8,900.1 916.6,899.8 917.4,900.2 918.2,899.6 919.0,899.1 919.8,899.1 920.6,899.1 921.4,898.3 922.2,898.2 923.0,897.4 923.8,897.5 924.6,896.6 925.4,896.7 926.2,896.5 927.0,895.8 927.8,895.0 928.6,893.1 929.4,890.5 930.2,887.7 931.0,883.4 931.8,878.9 932.6,873.0 933.4,866.6 934.2,861.5 935.0,854.8 935.8,848.9 936.6,844.0 937.4,838.6 938.2,833.5 939.0,828.2 939.8,824.1 940.6,819.7 941.4,815.4 942.2,811.6 943.0,807.8 943.8,804.3 944.6,800.5 945.4,797.6 946.2,793.8 947.0,791.3 947.8,788.6 948.6,785.5 949.4,783.1 950.2,781.2 951.0,778.4 951.8,776.6 952.6,774.4 953.4,772.0 954.2,770.4 955.0,768.3 955.8,766.7 956.6,764.4 957.4,763.2 958.2,761.9 959.0,760.3 959.8,758.8 960.6,757.1 961.4,755.8 962.2,754.3 963.1,753.2 963.9,752.0 964.7,750.9 965.5,749.9 966.3,748.8 967.1,747.6 967.9,746.7 968.7,746.1 969.5,745.5 970.3,744.4 971.1,743.3 971.9,743.2 972.7,742.0 973.5,741.0 974.3,740.6 975.1,740.2 975.9,738.9 976.7,738.5 977.5,738.4 978.3,737.6 979.1,737.3 979.9,737.5 980.7,736.3 981.5,736.9 982.3,736.5 983.1,736.4 983.9,735.8 984.7,735.8 985.5,735.2 986.3,734.5 987.1,734.4 987.9,734.1 988.7,733.3 989.5,733.5 990.3,732.6 991.1,732.6 991.9,732.2 992.7,732.0 993.5,731.9 994.3,731.9 995.1,732.2 995.9,732.3 996.7,732.3 997.5,732.6 998.3,733.0 999.1,732.9 999.9,732.8 1000.7,732.5 1001.5,732.1 1002.3,731.8 1003.1,731.7 1003.9,731.2 1004.7,731.4 1005.5,731.6 1006.3,730.8 1007.1,731.1 1007.9,730.9 1008.7,730.9 1009.5,730.4 1010.3,730.7 1011.1,730.2 1011.9,730.2 1012.7,730.2 1013.5,730.2 1014.3,729.5 1015.1,729.4 1015.9,729.3 1016.7,729.0 1017.5,729.3 1018.3,729.3 1019.1,729.4 1019.9,729.3 1020.7,729.3 1021.5,729.4 1022.3,728.6 1023.1,729.5 1023.9,729.0 1024.7,728.9 1025.5,729.1 1026.3,729.4 1027.1,729.4 1027.9,729.5 1028.7,729.8 1029.5,729.6 1030.3,729.6 1031.1,729.5 1031.9,728.9 1032.7,729.1 1033.5,728.4 1034.3,728.4 1035.1,727.9 1035.9,727.8 1036.7,727.6 1037.5,727.8 1038.3,727.8 1039.1,727.9 1039.9,727.9 1040.7,728.0 1041.5,728.2 1042.3,729.0 1043.1,729.2 1043.9,730.0 1044.7,730.4 1045.5,730.2 1046.3,730.1 1047.1,730.0 1047.9,729.8 1048.7,728.9 1049.5,728.8 1050.3,728.8 1051.1,727.7 1051.9,728.3 1052.7,728.7 1053.5,728.7 1054.3,729.3 1055.1,729.0 1055.9,729.8 1056.7,729.6 1057.5,728.9 1058.3,728.5 1059.1,727.5 1059.9,727.6 1060.7,727.0 1061.5,726.5 1062.3,726.5 1063.1,726.6 1063.9,727.1 1064.7,727.1 1065.5,728.2 1066.3,728.5 1067.1,728.6 1067.9,729.0 1068.7,729.1 1069.5,729.1 1070.3,729.0 1071.1,729.0 1071.9,728.7 1072.7,728.8 1073.5,728.3 1074.3,728.7 1075.1,727.7 1075.9,727.7 1076.7,727.9 1077.5,728.2 1078.3,728.3 1079.1,727.9 1079.9,728.2 1080.7,728.1 1081.5,728.5 1082.3,728.1 1083.1,728.6 1083.9,728.5 1084.7,729.0 1085.5,728.7 1086.3,728.3 1087.1,728.4 1087.9,728.2 1088.7,727.7 1089.5,727.6 1090.3,726.9 1091.1,727.5 1091.9,726.6 1092.7,726.6 1093.5,727.1 1094.3,727.2 1095.1,726.9 1095.9,727.7 1096.7,727.8 1097.5,727.7 1098.3,728.1 1099.1,727.9 1099.9,728.2 1100.7,727.8 1101.5,727.5 1102.3,727.5 1103.1,727.9 1103.9,727.0 1104.7,727.0 1105.5,727.1 1106.3,726.5 1107.1,727.2 1107.9,726.5 1108.7,727.4 1109.5,727.2 1110.3,728.1 1111.1,728.8 1111.9,728.8 1112.7,729.0 1113.5,729.0 1114.3,728.7 1115.1,728.7 1115.9,727.9 1116.7,727.3 1117.5,727.1 1118.3,726.9 1119.1,726.7 1119.9,726.3 1120.7,726.4 1121.5,727.1 1122.3,727.4 1123.1,727.1 1123.9,727.9 1124.7,727.5 1125.5,727.7 1126.3,727.8 1127.1,727.2 1127.9,727.2 1128.7,726.8 1129.5,726.8 1130.3,727.6 1131.2,727.7 1132.0,728.1 1132.8,728.8 1133.6,729.1 1134.4,728.6 1135.2,729.0 1136.0,728.8 1136.8,728.5 1137.6,728.2 1138.4,727.9 1139.2,727.3 1140.0,727.0 1140.8,727.3 1141.6,727.5 1142.4,727.2 1143.2,727.7 1144.0,727.7 1144.8,727.5 1145.6,727.5 1146.4,728.2 1147.2,728.8 1148.0,728.6 1148.8,729.4 1149.6,729.0 1150.4,728.2 1151.2,728.0 1152.0,728.0 1152.8,727.5 1153.6,726.4 1154.4,726.2 1155.2,726.1 1156.0,725.8 1156.8,726.2 1157.6,726.8 1158.4,726.5 1159.2,727.2 1160.0,727.7 1160.8,728.1 1161.6,727.9 1162.4,728.3 1163.2,728.1 1164.0,728.3 1164.8,727.9 1165.6,728.2 1166.4,728.0 1167.2,728.0 1168.0,727.3 1168.8,726.2 1169.6,724.6 1170.4,724.3 1171.2,722.2 1172.0,719.3 1172.8,715.9 1173.6,712.1 1174.4,707.2 1175.2,702.4 1176.0,696.5 1176.8,690.4 1177.6,684.4 1178.4,679.0 1179.2,673.4 1180.0,667.7 1180.8,662.2 1181.6,657.3 1182.4,652.7 1183.2,647.7 1184.0,643.1 1184.8,639.2 1185.6,635.2 1186.4,630.7 1187.2,626.8 1188.0,622.8 1188.8,619.3 1189.6,615.9 1190.4,612.4 1191.2,609.2 1192.0,605.9 1192.8,602.7 1193.6,599.7 1194.4,596.5 1195.2,594.5 1196.0,591.8 1196.8,589.7 1197.6,587.2 1198.4,585.7 1199.2,584.2 1200.0,582.4 1200.8,581.0 1201.6,579.6 1202.4,577.5 1203.2,576.0 1204.0,574.0 1204.8,572.3 1205.6,570.7 1206.4,569.2 1207.2,567.9 1208.0,566.1 1208.8,565.0 1209.6,563.7 1210.4,562.8 1211.2,561.9 1212.0,560.9 1212.8,559.5 1213.6,558.2 1214.4,557.5 1215.2,556.2 1216.0,554.9 1216.8,554.4 1217.6,553.2 1218.4,552.3 1219.2,550.7 1220.0,550.0 1220.8,549.2 1221.6,548.6 1222.4,547.5 1223.2,546.5 1224.0,546.2 1224.8,545.7 1225.6,545.0 1226.4,545.1 1227.2,544.5 1228.0,544.1 1228.8,544.3 1229.6,544.1 1230.4,543.7 1231.2,543.7 1232.0,543.6 1232.8,543.2 1233.6,543.0 1234.4,542.9 1235.2,542.5 1236.0,541.8 1236.8,541.1 1237.6,540.6 1238.4,540.5 1239.2,539.5 1240.0,539.0 1240.8,538.7 1241.6,538.1 1242.4,537.6 1243.2,537.1 1244.0,537.6 1244.8,537.2 1245.6,537.4 1246.4,537.5 1247.2,537.3 1248.0,537.5 1248.8,537.9 1249.6,537.7 1250.4,537.5 1251.2,537.7 1252.0,536.9 1252.8,536.8 1253.6,536.5 1254.4,536.1 1255.2,535.4 1256.0,535.6 1256.8,535.4 1257.6,534.8 1258.4,535.3 1259.2,535.3 1260.0,535.8 1260.8,535.5 1261.6,536.0 1262.4,536.3 1263.2,536.6 1264.0,536.8 1264.8,536.8 1265.6,536.5 1266.4,535.7 1267.2,535.2 1268.0,534.3 1268.8,534.3 1269.6,533.9 1270.4,533.8 1271.2,533.2 1272.0,533.8 1272.8,533.4 1273.6,533.4 1274.4,533.9 1275.2,533.7 1276.0,534.3 1276.8,533.8 1277.6,533.9 1278.4,533.4 1279.2,533.4 1280.0,533.6 1280.8,533.3 1281.6,533.6 1282.4,534.1 1283.2,534.3 1284.0,534.8 1284.8,534.7 1285.6,534.2 1286.4,534.9 1287.2,534.6 1288.0,534.8 1288.8,534.3 1289.6,534.3 1290.4,534.4 1291.2,534.7 1292.0,534.4 1292.8,533.9 1293.6,534.2 1294.4,534.0 1295.2,534.2 1296.0,534.4 1296.8,533.8 1297.6,533.6 1298.5,533.7 1299.3,533.5 1300.1,533.2 1300.9,533.3 1301.7,533.0 1302.5,533.1 1303.3,533.6 1304.1,533.1 1304.9,533.3 1305.7,533.4 1306.5,533.2 1307.3,533.5 1308.1,533.3 1308.9,533.1 1309.7,533.3 1310.5,533.7 1311.3,533.3 1312.1,532.7 1312.9,532.7 1313.7,532.6 1314.5,532.1 1315.3,531.7 1316.1,531.5 1316.9,531.3 1317.7,531.5 1318.5,531.4 1319.3,531.5 1320.1,531.5 1320.9,532.2 1321.7,532.0 1322.5,532.5 1323.3,532.2 1324.1,532.5 1324.9,532.8 1325.7,533.3 1326.5,533.9 1327.3,533.7 1328.1,534.2 1328.9,534.1 1329.7,534.5 1330.5,534.4 1331.3,533.9 1332.1,533.4 1332.9,533.4 1333.7,532.4 1334.5,531.8 1335.3,532.3 1336.1,531.7 1336.9,531.7 1337.7,531.5 1338.5,531.9 1339.3,532.1 1340.1,532.3 1340.9,532.7 1341.7,533.2 1342.5,533.4 1343.3,533.4 1344.1,533.3 1344.9,532.9 1345.7,532.7 1346.5,532.2 1347.3,532.3 1348.1,531.5 1348.9,531.0 1349.7,531.2 1350.5,531.6 1351.3,530.9 1352.1,531.4 1352.9,532.3 1353.7,531.9 1354.5,532.0 1355.3,532.5 1356.1,532.6 1356.9,533.1 1357.7,533.5 1358.5,534.2 1359.3,534.1 1360.1,533.7 1360.9,533.6 1361.7,533.9 1362.5,533.6 1363.3,533.2 1364.1,533.7 1364.9,533.6 1365.7,533.1 1366.5,532.9 1367.3,533.1 1368.1,533.5 1368.9,533.1 1369.7,533.5 1370.5,533.2 1371.3,533.5 1372.1,533.6 1372.9,533.7 1373.7,534.1 1374.5,533.8 1375.3,533.8 1376.1,534.0 1376.9,533.8 1377.7,534.2 1378.5,533.8 1379.3,534.0 1380.1,534.2 1380.9,534.0 1381.7,534.0 1382.5,533.9 1383.3,533.6 1384.1,533.2 1384.9,533.3 1385.7,533.0 1386.5,533.1 1387.3,532.5 1388.1,532.1 1388.9,532.1 1389.7,532.2 1390.5,532.5 1391.3,532.9 1392.1,532.9 1392.9,533.4 1393.7,533.6 1394.5,533.3 1395.3,533.8 1396.1,533.2 1396.9,533.9 1397.7,533.4 1398.5,533.7 1399.3,533.3 1400.1,533.5 1400.9,533.2 1401.7,533.2 1402.5,533.3 1403.3,533.1 1404.1,532.9 1404.9,533.6 1405.7,533.5 1406.5,533.9 1407.3,534.1 1408.1,533.7 1408.9,534.6 1409.7,533.9 1410.5,533.5 1411.3,532.1 1412.1,530.7 1412.9,528.1 1413.7,527.0 1414.5,524.3 1415.3,521.9 1416.1,519.6 1416.9,516.3 1417.7,512.7 1418.5,509.5 1419.3,505.7 1420.1,501.5 1420.9,497.7 1421.7,492.9 1422.5,487.9 1423.3,483.1 1424.1,478.7 1424.9,473.9 1425.7,469.3 1426.5,465.0 1427.3,460.6 1428.1,456.8 1428.9,453.1 1429.7,450.0 1430.5,446.7 1431.3,443.4 1432.1,441.1 1432.9,438.1 1433.7,435.9 1434.5,433.6 1435.3,430.8 1436.1,428.8 1436.9,426.3 1437.7,423.8 1438.5,421.0 1439.3,417.8 1440.1,416.5 1440.9,413.6 1441.7,411.3 1442.5,408.9 1443.3,407.2 1444.1,405.8 1444.9,403.2 1445.7,402.2 1446.5,400.6 1447.3,399.7 1448.1,398.6 1448.9,397.5 1449.7,396.2 1450.5,395.2 1451.3,394.5 1452.1,393.1 1452.9,392.1 1453.7,390.7 1454.5,389.3 1455.3,388.0 1456.1,387.1 1456.9,386.0 1457.7,385.1 1458.5,384.4 1459.3,384.0 1460.1,382.9 1460.9,382.9 1461.7,382.0 1462.5,381.4 1463.3,380.3 1464.1,380.2 1464.9,378.2 1465.7,377.8 1466.5,377.1 1467.4,376.0 1468.2,374.8 1469.0,374.7 1469.8,374.6 1470.6,374.1 1471.4,373.3 1472.2,373.6 1473.0,373.0 1473.8,372.7 1474.6,371.7 1475.4,371.9 1476.2,371.1 1477.0,371.1 1477.8,370.6 1478.6,369.6 1479.4,369.2 1480.2,369.2 1481.0,368.1 1481.8,367.6 1482.6,367.6 1483.4,367.1 1484.2,366.9 1485.0,367.0 1485.8,367.0 1486.6,366.9 1487.4,366.7 1488.2,366.9 1489.0,366.3 1489.8,366.3 1490.6,365.6 1491.4,365.3 1492.2,365.2 1493.0,364.4 1493.8,363.8 1494.6,363.8 1495.4,364.3 1496.2,363.6 1497.0,363.9 1497.8,364.0 1498.6,364.3 1499.4,364.3 1500.2,364.2 1501.0,364.7 1501.8,365.1 1502.6,365.3 1503.4,365.3 1504.2,365.0 1505.0,364.5 1505.8,364.9 1506.6,364.3 1507.4,364.0 1508.2,363.7 1509.0,363.0 1509.8,362.7 1510.6,362.9 1511.4,362.6 1512.2,362.0 1513.0,362.2 1513.8,362.2 1514.6,362.7 1515.4,363.0 1516.2,363.1 1517.0,363.7 1517.8,364.1 1518.6,364.0 1519.4,363.7 1520.2,363.9 1521.0,362.9 1521.8,362.5 1522.6,362.3 1523.4,361.5 1524.2,361.1 1525.0,360.7 1525.8,360.7 1526.6,361.3 1527.4,361.6 1528.2,361.3 1529.0,361.8 1529.8,361.9 1530.6,361.9 1531.4,361.6 1532.2,362.1 1533.0,361.4 1533.8,361.8 1534.6,361.3 1535.4,361.2 1536.2,362.0 1537.0,361.8 1537.8,362.2 1538.6,362.4 1539.4,362.5 1540.2,362.8 1541.0,362.8 1541.8,362.3 1542.6,362.1 1543.4,362.2 1544.2,362.2 1545.0,361.1 1545.8,361.2 1546.6,361.2 1547.4,361.4 1548.2,361.3 1549.0,361.1 1549.8,361.4 1550.6,360.8 1551.4,361.3 1552.2,361.4 1553.0,361.8 1553.8,361.9 1554.6,362.0 1555.4,361.7 1556.2,361.8 1557.0,361.6 1557.8,361.3 1558.6,361.2 1559.4,360.8 1560.2,361.2 1561.0,361.6 1561.8,361.7 1562.6,361.7 1563.4,362.7 1564.2,363.0 1565.0,363.4 1565.8,363.3 1566.6,363.2 1567.4,363.0 1568.2,362.3 1569.0,361.3 1569.8,360.6 1570.6,360.1 1571.4,359.8 1572.2,360.0 1573.0,360.2 1573.8,360.3 1574.6,361.3 1575.4,361.6 1576.2,362.6 1577.0,362.7 1577.8,363.1 1578.6,363.5 1579.4,363.2 1580.2,363.6 1581.0,363.6 1581.8,363.4 1582.6,363.4 1583.4,362.7 1584.2,362.9 1585.0,362.5 1585.8,362.7 1586.6,362.4 1587.4,362.2 1588.2,362.2 1589.0,362.3 1589.8,362.2 1590.6,361.8 1591.4,362.2 1592.2,362.1 1593.0,361.9 1593.8,361.0 1594.6,360.9 1595.4,360.9 1596.2,360.6 1597.0,360.9 1597.8,360.8 1598.6,360.9 1599.4,361.2 1600.2,361.7 1601.0,362.0 1601.8,361.9 1602.6,362.0 1603.4,362.5 1604.2,361.8 1605.0,361.3 1605.8,361.4 1606.6,361.0 1607.4,361.3 1608.2,360.8 1609.0,361.5 1609.8,361.8 1610.6,361.9 1611.4,361.5 1612.2,362.4 1613.0,362.4 1613.8,361.7 1614.6,361.3 1615.4,360.3 1616.2,360.4 1617.0,359.9 1617.8,359.3 1618.6,359.0 1619.4,359.1 1620.2,359.2 1621.0,360.2 1621.8,360.4 1622.6,360.6 1623.4,360.5 1624.2,360.5 1625.0,360.4 1625.8,360.2 1626.6,359.5 1627.4,359.2 1628.2,358.6 1629.0,359.5 1629.8,359.4 1630.6,360.6 1631.4,361.0 1632.2,361.6 1633.0,362.0 1633.8,362.4 1634.6,362.3 1635.5,362.0 1636.3,361.7 1637.1,361.1 1637.9,360.9 1638.7,360.6 1639.5,360.2 1640.3,360.6 1641.1,360.9 1641.9,361.3 1642.7,361.6 1643.5,361.8 1644.3,362.3 1645.1,361.9 1645.9,361.6 1646.7,361.5 1647.5,361.6 1648.3,361.5 1649.1,360.9 1649.9,360.4 1650.7,360.0 1651.5,360.0 1652.3,359.9 1653.1,359.3 1653.9,359.6 1654.7,358.9 1655.5,358.5 1656.3,358.1 1657.1,356.3 1657.9,354.4 1658.7,351.5 1659.5,348.0 1660.3,343.6 1661.1,338.4 1661.9,333.6 1662.7,328.5 1663.5,324.0 1664.3,319.2 1665.1,314.8 1665.9,311.0 1666.7,307.2 1667.5,303.1 1668.3,299.9 1669.1,297.1 1669.9,294.0 1670.7,291.1 1671.5,288.3 1672.3,286.6 1673.1,283.9 1673.9,281.4 1674.7,279.8 1675.5,277.5 1676.3,276.5 1677.1,273.6 1677.9,272.1 1678.7,270.8 1679.5,268.5 1680.3,266.8 1681.1,265.3 1681.9,263.9 1682.7,262.8 1683.5,261.8 1684.3,260.6 1685.1,259.4 1685.9,258.3 1686.7,257.6 1687.5,256.6 1688.3,255.5 1689.1,254.8 1689.9,253.5 1690.7,252.6 1691.5,252.5 1692.3,251.3 1693.1,250.5 1693.9,249.5 1694.7,248.0 1695.5,247.4 1696.3,246.5 1697.1,245.4 1697.9,244.3 1698.7,243.8 1699.5,243.1 1700.3,242.2 1701.1,241.9 1701.9,241.5 1702.7,241.1 1703.5,241.4 1704.3,240.9 1705.1,240.9 1705.9,240.3 1706.7,240.1 1707.5,240.1 1708.3,239.1 1709.1,239.2 1709.9,238.0 1710.7,237.7 1711.5,237.3 1712.3,236.8 1713.1,236.1 1713.9,235.6 1714.7,235.3 1715.5,234.6 1716.3,234.7 1717.1,234.0 1717.9,233.7 1718.7,233.9 1719.5,233.1 1720.3,233.2 1721.1,233.3 1721.9,232.6 1722.7,232.4 1723.5,232.0 1724.3,232.2 1725.1,231.6 1725.9,231.5 1726.7,231.3 1727.5,231.0 1728.3,230.8 1729.1,230.6 1729.9,229.9 1730.7,229.3 1731.5,229.1 1732.3,228.8 1733.1,228.8 1733.9,228.0 1734.7,227.8 1735.5,228.1 1736.3,227.6 1737.1,227.4 1737.9,227.4 1738.7,227.1 1739.5,226.9 1740.3,227.3 1741.1,226.9 1741.9,226.6 1742.7,226.4 1743.5,226.3 1744.3,227.2 1745.1,226.9 1745.9,226.7 1746.7,226.7 1747.5,226.5 1748.3,227.0 1749.1,226.6 1749.9,226.3 1750.7,225.4 1751.5,225.4 1752.3,224.3 1753.1,224.0 1753.9,223.7 1754.7,224.1 1755.5,223.6 1756.3,223.2 1757.1,223.8 1757.9,223.6 1758.7,223.7 1759.5,223.7 1760.3,224.1 1761.1,224.4 1761.9,224.9 1762.7,225.0 1763.5,225.3 1764.3,225.2 1765.1,225.5 1765.9,225.2 1766.7,225.7 1767.5,224.9 1768.3,225.0 1769.1,224.4 1769.9,224.3 1770.7,223.8 1771.5,223.3 1772.3,223.5 1773.1,223.1 1773.9,223.1 1774.7,223.1 1775.5,223.8 1776.3,223.7 1777.1,224.1 1777.9,224.5 1778.7,224.7 1779.5,225.1 1780.3,224.4 1781.1,224.5 1781.9,223.9 1782.7,224.3 1783.5,224.0 1784.3,223.4 1785.1,223.7 1785.9,223.1 1786.7,223.3 1787.5,223.3 1788.3,223.2 1789.1,223.4 1789.9,223.1 1790.7,223.5 1791.5,224.1 1792.3,223.7 1793.1,224.4 1793.9,224.1 1794.7,224.4 1795.5,224.3 1796.3,223.6 1797.1,223.9 1797.9,223.8 1798.7,223.7 1799.5,223.6 1800.3,223.2 1801.1,224.0 1801.9,224.2 1802.8,224.0 1803.6,224.8 1804.4,224.7 1805.2,224.4 1806.0,224.7 1806.8,224.6 1807.6,224.4 1808.4,224.2 1809.2,223.9 1810.0,223.6 1810.8,223.3 1811.6,223.6 1812.4,224.3 1813.2,224.7 1814.0,224.7 1814.8,225.5 1815.6,225.2 1816.4,224.9 1817.2,224.5 1818.0,223.8 1818.8,222.7 1819.6,222.4 1820.4,221.5 1821.2,220.9 1822.0,220.5 1822.8,220.8 1823.6,220.3 1824.4,220.9 1825.2,221.2 1826.0,221.4 1826.8,221.7 1827.6,221.9 1828.4,221.4 1829.2,221.6 1830.0,221.7 1830.8,221.4 1831.6,221.9 1832.4,221.6 1833.2,221.9 1834.0,222.3 1834.8,222.1 1835.6,222.8 1836.4,222.4 1837.2,222.8 1838.0,222.4 1838.8,222.1 1839.6,222.2 1840.4,222.3 1841.2,222.0 1842.0,221.9 1842.8,222.0 1843.6,221.9 1844.4,221.6 1845.2,221.4 1846.0,222.0 1846.8,221.6 1847.6,221.5 1848.4,221.6 1849.2,221.9 1850.0,221.5 1850.8,222.1 1851.6,221.6 1852.4,221.4 1853.2,222.2 1854.0,221.6 1854.8,221.6 1855.6,221.6 1856.4,221.8 1857.2,221.8 1858.0,222.3 1858.8,222.2 1859.6,222.5 1860.4,223.1 1861.2,223.5 1862.0,223.6 1862.8,223.6 1863.6,223.5 1864.4,223.4 1865.2,223.1 1866.0,223.2 1866.8,223.2 1867.6,222.2 1868.4,221.9 1869.2,222.6 1870.0,222.6 1870.8,222.5 1871.6,222.6 1872.4,222.9 1873.2,222.9 1874.0,223.4 1874.8,223.4 1875.6,223.5 1876.4,223.8 1877.2,223.5 1878.0,223.7 1878.8,223.6 1879.6,224.0 1880.4,223.7 1881.2,224.2 1882.0,223.9 1882.8,224.5 1883.6,224.0 1884.4,223.5 1885.2,223.5 1886.0,223.1 1886.8,223.3" stroke="#767171" stroke-width="8.6"/>
<path d="M 205.8 1232.3 H 446.5 V 1051.2 H 688.5 V 870.1 H 927.2 V 689.1 H 1169.5 V 508.0 H 1412.0 V 326.9 H 1654.0 V 145.9 H 1886.8" stroke="#000" stroke-width="5.5" stroke-dasharray="15.5 22" stroke-dashoffset="-2.75" stroke-linecap="round"/>
</g>
<rect x="229.5" y="71.5" width="569.5" height="426" fill="#fff" stroke="#1e1e1e" stroke-width="2.2"/>
<line x1="311.2" y1="125.4" x2="379.5" y2="125.4" stroke="#ff0000" stroke-width="6.6" stroke-linecap="round"/>
<text transform="translate(0 137.70)" x="386.96" y="0" font-family="Carlito, 'Liberation Sans', sans-serif" font-size="41.60" textLength="332.68" lengthAdjust="spacingAndGlyphs" xml:space="preserve">CO-CLEW01263-T2</text>
<line x1="311.2" y1="231.8" x2="379.5" y2="231.8" stroke="#3366ff" stroke-width="6.6" stroke-linecap="round"/>
<text transform="translate(0 243.20)" x="386.96" y="0" font-family="Carlito, 'Liberation Sans', sans-serif" font-size="41.60" textLength="332.68" lengthAdjust="spacingAndGlyphs" xml:space="preserve">CO-CLEW01278-T2</text>
<line x1="312.2" y1="338.0" x2="378.5" y2="338.0" stroke="#767171" stroke-width="8.6" stroke-linecap="round"/>
<text transform="translate(0 351.00)" x="386.96" y="0" font-family="Carlito, 'Liberation Sans', sans-serif" font-size="41.60" textLength="332.68" lengthAdjust="spacingAndGlyphs" xml:space="preserve">CO-CLEW01225-T2</text>
<line x1="309" y1="444.0" x2="329.5" y2="444.0" stroke="#000" stroke-width="5.8"/>
<line x1="347" y1="444.0" x2="368.4" y2="444.0" stroke="#000" stroke-width="5.8"/>
<text transform="translate(0 457.50)" x="386.95" y="0" font-family="Carlito, 'Liberation Sans', sans-serif" font-size="41.60" textLength="220.12" lengthAdjust="spacingAndGlyphs" xml:space="preserve">CO Set point</text>
<text transform="translate(0 1550.30)" x="519.97" y="0" font-family="'TeX Gyre Pagella', 'Palatino Linotype', Palatino, 'Liberation Serif', serif" font-size="75.00" stroke="#000" stroke-width="0.5" textLength="33.18" lengthAdjust="spacingAndGlyphs" xml:space="preserve">(</text>
<text transform="translate(0 1550.30)" x="548.63" y="0" font-family="'TeX Gyre Pagella', 'Palatino Linotype', Palatino, 'Liberation Serif', serif" font-size="75.00" font-weight="700" textLength="37.17" lengthAdjust="spacingAndGlyphs" xml:space="preserve">a</text>
<text transform="translate(0 1550.30)" x="582.38" y="0" font-family="'TeX Gyre Pagella', 'Palatino Linotype', Palatino, 'Liberation Serif', serif" font-size="75.00" stroke="#000" stroke-width="0.5" textLength="33.18" lengthAdjust="spacingAndGlyphs" xml:space="preserve">)</text>
<text transform="translate(0 1550.30)" x="630.80" y="0" font-family="'TeX Gyre Pagella', 'Palatino Linotype', Palatino, 'Liberation Serif', serif" font-size="75.00" stroke="#000" stroke-width="0.5" textLength="764.60" lengthAdjust="spacingAndGlyphs" xml:space="preserve">Voltage measurements.</text>
<defs><filter id="sh" x="-5%" y="-5%" width="110%" height="110%"><feGaussianBlur stdDeviation="3.5"/></filter></defs>
<rect x="28" y="1635" width="1964.5" height="1422.5" fill="#8f8b8f" opacity="0.9" filter="url(#sh)"/>
<rect x="24.2" y="1631.2" width="1964.6" height="1422.5" fill="#fff" stroke="#70ad47" stroke-width="2.4"/>
<line x1="169.4" y1="2709.9" x2="1920.4" y2="2709.9" stroke="#bfbfbf" stroke-width="1.9"/>
<line x1="169.4" y1="2593.4" x2="1920.4" y2="2593.4" stroke="#bfbfbf" stroke-width="1.9"/>
<line x1="169.4" y1="2476.9" x2="1920.4" y2="2476.9" stroke="#bfbfbf" stroke-width="1.9"/>
<line x1="169.4" y1="2360.4" x2="1920.4" y2="2360.4" stroke="#bfbfbf" stroke-width="1.9"/>
<line x1="169.4" y1="2243.9" x2="1920.4" y2="2243.9" stroke="#bfbfbf" stroke-width="1.9"/>
<line x1="169.4" y1="2127.4" x2="1920.4" y2="2127.4" stroke="#bfbfbf" stroke-width="1.9"/>
<line x1="169.4" y1="2010.9" x2="1920.4" y2="2010.9" stroke="#bfbfbf" stroke-width="1.9"/>
<line x1="169.4" y1="1894.4" x2="1920.4" y2="1894.4" stroke="#bfbfbf" stroke-width="1.9"/>
<line x1="169.4" y1="1777.9" x2="1920.4" y2="1777.9" stroke="#bfbfbf" stroke-width="1.9"/>
<line x1="169.4" y1="2826.4" x2="182.6" y2="2826.4" stroke="#8c8c8c" stroke-width="1.8"/>
<line x1="169.4" y1="1661.4" x2="182.6" y2="1661.4" stroke="#8c8c8c" stroke-width="1.8"/>
<line x1="182.6" y1="2826.4" x2="182.6" y2="2841" stroke="#8c8c8c" stroke-width="1.8"/>
<line x1="472.2" y1="2826.4" x2="472.2" y2="2841" stroke="#8c8c8c" stroke-width="1.8"/>
<line x1="761.9" y1="2826.4" x2="761.9" y2="2841" stroke="#8c8c8c" stroke-width="1.8"/>
<line x1="1051.5" y1="2826.4" x2="1051.5" y2="2841" stroke="#8c8c8c" stroke-width="1.8"/>
<line x1="1341.1" y1="2826.4" x2="1341.1" y2="2841" stroke="#8c8c8c" stroke-width="1.8"/>
<line x1="1630.8" y1="2826.4" x2="1630.8" y2="2841" stroke="#8c8c8c" stroke-width="1.8"/>
<line x1="1920.4" y1="2826.4" x2="1920.4" y2="2841" stroke="#8c8c8c" stroke-width="1.8"/>
<text transform="translate(0 2846.40)" x="119.48" y="0" font-family="Carlito, 'Liberation Sans', sans-serif" font-size="46.00" textLength="22.39" lengthAdjust="spacingAndGlyphs" xml:space="preserve">0</text>
<text transform="translate(0 2729.90)" x="97.40" y="0" font-family="Carlito, 'Liberation Sans', sans-serif" font-size="46.00" textLength="44.77" lengthAdjust="spacingAndGlyphs" xml:space="preserve">10</text>
<text transform="translate(0 2613.40)" x="97.40" y="0" font-family="Carlito, 'Liberation Sans', sans-serif" font-size="46.00" textLength="44.77" lengthAdjust="spacingAndGlyphs" xml:space="preserve">20</text>
<text transform="translate(0 2496.90)" x="97.40" y="0" font-family="Carlito, 'Liberation Sans', sans-serif" font-size="46.00" textLength="44.77" lengthAdjust="spacingAndGlyphs" xml:space="preserve">30</text>
<text transform="translate(0 2380.40)" x="97.40" y="0" font-family="Carlito, 'Liberation Sans', sans-serif" font-size="46.00" textLength="44.77" lengthAdjust="spacingAndGlyphs" xml:space="preserve">40</text>
<text transform="translate(0 2263.90)" x="97.40" y="0" font-family="Carlito, 'Liberation Sans', sans-serif" font-size="46.00" textLength="44.77" lengthAdjust="spacingAndGlyphs" xml:space="preserve">50</text>
<text transform="translate(0 2147.40)" x="97.40" y="0" font-family="Carlito, 'Liberation Sans', sans-serif" font-size="46.00" textLength="44.77" lengthAdjust="spacingAndGlyphs" xml:space="preserve">60</text>
<text transform="translate(0 2030.90)" x="97.40" y="0" font-family="Carlito, 'Liberation Sans', sans-serif" font-size="46.00" textLength="44.77" lengthAdjust="spacingAndGlyphs" xml:space="preserve">70</text>
<text transform="translate(0 1914.40)" x="97.40" y="0" font-family="Carlito, 'Liberation Sans', sans-serif" font-size="46.00" textLength="44.77" lengthAdjust="spacingAndGlyphs" xml:space="preserve">80</text>
<text transform="translate(0 1797.90)" x="97.40" y="0" font-family="Carlito, 'Liberation Sans', sans-serif" font-size="46.00" textLength="44.77" lengthAdjust="spacingAndGlyphs" xml:space="preserve">90</text>
<text transform="translate(0 1681.40)" x="74.36" y="0" font-family="Carlito, 'Liberation Sans', sans-serif" font-size="46.00" textLength="67.16" lengthAdjust="spacingAndGlyphs" xml:space="preserve">100</text>
<text transform="translate(0 2903.40)" x="171.58" y="0" font-family="Carlito, 'Liberation Sans', sans-serif" font-size="46.00" textLength="22.35" lengthAdjust="spacingAndGlyphs" xml:space="preserve">0</text>
<text transform="translate(0 2903.40)" x="449.72" y="0" font-family="Carlito, 'Liberation Sans', sans-serif" font-size="46.00" textLength="44.68" lengthAdjust="spacingAndGlyphs" xml:space="preserve">50</text>
<text transform="translate(0 2903.40)" x="726.90" y="0" font-family="Carlito, 'Liberation Sans', sans-serif" font-size="46.00" textLength="67.02" lengthAdjust="spacingAndGlyphs" xml:space="preserve">100</text>
<text transform="translate(0 2903.40)" x="1016.53" y="0" font-family="Carlito, 'Liberation Sans', sans-serif" font-size="46.00" textLength="67.02" lengthAdjust="spacingAndGlyphs" xml:space="preserve">150</text>
<text transform="translate(0 2903.40)" x="1307.12" y="0" font-family="Carlito, 'Liberation Sans', sans-serif" font-size="46.00" textLength="67.02" lengthAdjust="spacingAndGlyphs" xml:space="preserve">200</text>
<text transform="translate(0 2903.40)" x="1596.76" y="0" font-family="Carlito, 'Liberation Sans', sans-serif" font-size="46.00" textLength="67.02" lengthAdjust="spacingAndGlyphs" xml:space="preserve">250</text>
<text transform="translate(0 2903.40)" x="1886.39" y="0" font-family="Carlito, 'Liberation Sans', sans-serif" font-size="46.00" textLength="67.02" lengthAdjust="spacingAndGlyphs" xml:space="preserve">300</text>
<text transform="translate(0 2960.00)" x="897.00" y="0" font-family="Carlito, 'Liberation Sans', sans-serif" font-size="37.00" font-weight="700" textLength="307.19" lengthAdjust="spacingAndGlyphs" xml:space="preserve">Sensor Output (mV)</text>
<text transform="translate(64.80 2244.75) rotate(-90) scale(1 1.0200)" x="-284.35" y="0" font-family="Carlito, 'Liberation Sans', sans-serif" font-size="37.00" font-weight="700" textLength="569.77" lengthAdjust="spacingAndGlyphs" xml:space="preserve">CO Set point Concentration (ppm)</text>
<g fill="none" stroke-width="5.0" stroke-linecap="round" stroke-dasharray="10 10.3">
<path d="M 205.2,2810.6 L 214.9,2800.4 L 224.6,2790.3 L 234.3,2780.3 L 244.0,2770.3 L 253.7,2760.4 L 263.4,2750.6 L 273.1,2740.8 L 282.8,2731.1 L 292.5,2721.4 L 302.2,2711.8 L 311.9,2702.3 L 321.6,2692.8 L 331.2,2683.4 L 340.9,2674.0 L 350.6,2664.7 L 360.3,2655.4 L 370.0,2646.2 L 379.7,2637.0 L 389.4,2627.9 L 399.1,2618.8 L 408.8,2609.8 L 418.5,2600.8 L 428.2,2591.9 L 437.9,2583.0 L 447.6,2574.1 L 457.3,2565.3 L 467.0,2556.5 L 476.7,2547.8 L 486.4,2539.1 L 496.1,2530.4 L 505.8,2521.8 L 515.5,2513.2 L 525.2,2504.6 L 534.9,2496.1 L 544.6,2487.6 L 554.3,2479.1 L 564.0,2470.6 L 573.7,2462.2 L 583.4,2453.8 L 593.1,2445.4 L 602.8,2437.1 L 612.4,2428.7 L 622.1,2420.4 L 631.8,2412.1 L 641.5,2403.8 L 651.2,2395.6 L 660.9,2387.3 L 670.6,2379.1 L 680.3,2370.9 L 690.0,2362.7 L 699.7,2354.5 L 709.4,2346.3 L 719.1,2338.1 L 728.8,2329.9 L 738.5,2321.8 L 748.2,2313.6 L 757.9,2305.5 L 767.6,2297.3 L 777.3,2289.2 L 787.0,2281.0 L 796.7,2272.9 L 806.4,2264.7 L 816.1,2256.6 L 825.8,2248.4 L 835.5,2240.3 L 845.2,2232.1 L 854.9,2223.9 L 864.6,2215.7 L 874.3,2207.5 L 884.0,2199.3 L 893.7,2191.1 L 903.3,2182.9 L 913.0,2174.6 L 922.7,2166.4 L 932.4,2158.1 L 942.1,2149.8 L 951.8,2141.5 L 961.5,2133.2 L 971.2,2124.8 L 980.9,2116.4 L 990.6,2108.0 L 1000.3,2099.6 L 1010.0,2091.2 L 1019.7,2082.7 L 1029.4,2074.2 L 1039.1,2065.6 L 1048.8,2057.1 L 1058.5,2048.5 L 1068.2,2039.8 L 1077.9,2031.2 L 1087.6,2022.5 L 1097.3,2013.7 L 1107.0,2005.0 L 1116.7,1996.2 L 1126.4,1987.3 L 1136.1,1978.4 L 1145.8,1969.5 L 1155.5,1960.5 L 1165.2,1951.5 L 1174.9,1942.4 L 1184.6,1933.3 L 1194.2,1924.1 L 1203.9,1914.9 L 1213.6,1905.7 L 1223.3,1896.3 L 1233.0,1887.0 L 1242.7,1877.6 L 1252.4,1868.1 L 1262.1,1858.6 L 1271.8,1849.0 L 1281.5,1839.3 L 1291.2,1829.6 L 1300.9,1819.9 L 1310.6,1810.0 L 1320.3,1800.1 L 1330.0,1790.2 L 1339.7,1780.2 L 1349.4,1770.1 L 1359.1,1759.9" stroke="#ff0000"/>
<path d="M 206.9,2808.8 L 218.6,2798.8 L 230.2,2788.8 L 241.9,2778.8 L 253.5,2769.0 L 265.1,2759.2 L 276.8,2749.4 L 288.4,2739.8 L 300.1,2730.1 L 311.7,2720.6 L 323.4,2711.1 L 335.0,2701.6 L 346.7,2692.2 L 358.3,2682.9 L 369.9,2673.6 L 381.6,2664.4 L 393.2,2655.2 L 404.9,2646.0 L 416.5,2636.9 L 428.2,2627.9 L 439.8,2618.9 L 451.4,2609.9 L 463.1,2601.0 L 474.7,2592.1 L 486.4,2583.3 L 498.0,2574.5 L 509.7,2565.8 L 521.3,2557.1 L 533.0,2548.4 L 544.6,2539.7 L 556.2,2531.1 L 567.9,2522.5 L 579.5,2514.0 L 591.2,2505.5 L 602.8,2497.0 L 614.5,2488.5 L 626.1,2480.1 L 637.7,2471.7 L 649.4,2463.3 L 661.0,2455.0 L 672.7,2446.6 L 684.3,2438.3 L 696.0,2430.0 L 707.6,2421.8 L 719.3,2413.5 L 730.9,2405.3 L 742.5,2397.0 L 754.2,2388.8 L 765.8,2380.6 L 777.5,2372.4 L 789.1,2364.3 L 800.8,2356.1 L 812.4,2348.0 L 824.0,2339.8 L 835.7,2331.7 L 847.3,2323.5 L 859.0,2315.4 L 870.6,2307.3 L 882.3,2299.2 L 893.9,2291.0 L 905.6,2282.9 L 917.2,2274.8 L 928.8,2266.7 L 940.5,2258.5 L 952.1,2250.4 L 963.8,2242.3 L 975.4,2234.1 L 987.1,2225.9 L 998.7,2217.8 L 1010.3,2209.6 L 1022.0,2201.4 L 1033.6,2193.2 L 1045.3,2185.0 L 1056.9,2176.8 L 1068.6,2168.5 L 1080.2,2160.2 L 1091.9,2152.0 L 1103.5,2143.7 L 1115.1,2135.3 L 1126.8,2127.0 L 1138.4,2118.6 L 1150.1,2110.2 L 1161.7,2101.8 L 1173.4,2093.4 L 1185.0,2084.9 L 1196.6,2076.4 L 1208.3,2067.8 L 1219.9,2059.3 L 1231.6,2050.7 L 1243.2,2042.1 L 1254.9,2033.4 L 1266.5,2024.7 L 1278.2,2016.0 L 1289.8,2007.2 L 1301.4,1998.4 L 1313.1,1989.5 L 1324.7,1980.6 L 1336.4,1971.7 L 1348.0,1962.7 L 1359.7,1953.7 L 1371.3,1944.6 L 1382.9,1935.5 L 1394.6,1926.3 L 1406.2,1917.1 L 1417.9,1907.8 L 1429.5,1898.5 L 1441.2,1889.1 L 1452.8,1879.7 L 1464.5,1870.2 L 1476.1,1860.7 L 1487.7,1851.1 L 1499.4,1841.4 L 1511.0,1831.7 L 1522.7,1822.0 L 1534.3,1812.1 L 1546.0,1802.2 L 1557.6,1792.3 L 1569.2,1782.2 L 1580.9,1772.1 L 1592.5,1762.0" stroke="#548235"/>
<path d="M 216.5,2807.5 L 226.6,2797.5 L 236.8,2787.5 L 246.9,2777.6 L 257.0,2767.8 L 267.1,2758.0 L 277.3,2748.3 L 287.4,2738.6 L 297.5,2729.0 L 307.7,2719.5 L 317.8,2710.0 L 327.9,2700.6 L 338.1,2691.3 L 348.2,2682.0 L 358.3,2672.7 L 368.5,2663.5 L 378.6,2654.4 L 388.7,2645.3 L 398.9,2636.2 L 409.0,2627.2 L 419.1,2618.3 L 429.3,2609.4 L 439.4,2600.5 L 449.5,2591.7 L 459.7,2582.9 L 469.8,2574.2 L 479.9,2565.5 L 490.1,2556.8 L 500.2,2548.2 L 510.3,2539.6 L 520.5,2531.1 L 530.6,2522.6 L 540.7,2514.1 L 550.9,2505.6 L 561.0,2497.2 L 571.1,2488.8 L 581.2,2480.4 L 591.4,2472.1 L 601.5,2463.8 L 611.6,2455.5 L 621.8,2447.2 L 631.9,2438.9 L 642.0,2430.7 L 652.2,2422.5 L 662.3,2414.3 L 672.4,2406.1 L 682.6,2398.0 L 692.7,2389.8 L 702.8,2381.7 L 713.0,2373.5 L 723.1,2365.4 L 733.2,2357.3 L 743.4,2349.2 L 753.5,2341.1 L 763.6,2333.0 L 773.8,2324.9 L 783.9,2316.9 L 794.0,2308.8 L 804.2,2300.7 L 814.3,2292.6 L 824.4,2284.5 L 834.6,2276.5 L 844.7,2268.4 L 854.8,2260.3 L 865.0,2252.2 L 875.1,2244.1 L 885.2,2235.9 L 895.4,2227.8 L 905.5,2219.7 L 915.6,2211.5 L 925.7,2203.4 L 935.9,2195.2 L 946.0,2187.0 L 956.1,2178.8 L 966.3,2170.5 L 976.4,2162.3 L 986.5,2154.0 L 996.7,2145.7 L 1006.8,2137.4 L 1016.9,2129.0 L 1027.1,2120.6 L 1037.2,2112.2 L 1047.3,2103.8 L 1057.5,2095.3 L 1067.6,2086.9 L 1077.7,2078.3 L 1087.9,2069.8 L 1098.0,2061.2 L 1108.1,2052.6 L 1118.3,2043.9 L 1128.4,2035.2 L 1138.5,2026.4 L 1148.7,2017.7 L 1158.8,2008.8 L 1168.9,2000.0 L 1179.1,1991.1 L 1189.2,1982.1 L 1199.3,1973.1 L 1209.5,1964.0 L 1219.6,1954.9 L 1229.7,1945.8 L 1239.8,1936.6 L 1250.0,1927.3 L 1260.1,1918.0 L 1270.2,1908.7 L 1280.4,1899.2 L 1290.5,1889.7 L 1300.6,1880.2 L 1310.8,1870.6 L 1320.9,1860.9 L 1331.0,1851.2 L 1341.2,1841.4 L 1351.3,1831.6 L 1361.4,1821.7 L 1371.6,1811.7 L 1381.7,1801.6 L 1391.8,1791.5 L 1402.0,1781.3 L 1412.1,1771.0 L 1422.2,1760.7" stroke="#000090"/>
</g>
<defs>
<linearGradient id="gb" x1="0" y1="0" x2="0" y2="1"><stop offset="0" stop-color="#6898c9"/><stop offset="1" stop-color="#3a76b3"/></linearGradient>
<linearGradient id="go" x1="0" y1="0" x2="0" y2="1"><stop offset="0" stop-color="#df7e42"/><stop offset="1" stop-color="#c85d18"/></linearGradient>
</defs>
<ellipse cx="206.9" cy="2803.1" rx="11.9" ry="12.85" fill="url(#gb)"/>
<ellipse cx="400.4" cy="2628.3" rx="11.9" ry="12.85" fill="url(#gb)"/>
<ellipse cx="583.5" cy="2453.6" rx="11.9" ry="12.85" fill="url(#gb)"/>
<ellipse cx="773.5" cy="2278.9" rx="11.9" ry="12.85" fill="url(#gb)"/>
<ellipse cx="997.0" cy="2104.1" rx="11.9" ry="12.85" fill="url(#gb)"/>
<ellipse cx="1201.0" cy="1929.4" rx="11.9" ry="12.85" fill="url(#gb)"/>
<ellipse cx="1359.1" cy="1754.6" rx="11.9" ry="12.85" fill="url(#gb)"/>
<path d="M 206.6 2788.9 L 219.6 2803.1 L 206.6 2817.3 L 193.6 2803.1 Z" fill="url(#go)"/>
<path d="M 441.5 2614.2 L 454.5 2628.3 L 441.5 2642.5 L 428.5 2628.3 Z" fill="url(#go)"/>
<path d="M 662.8 2439.4 L 675.8 2453.6 L 662.8 2467.8 L 649.8 2453.6 Z" fill="url(#go)"/>
<path d="M 893.9 2264.7 L 906.9 2278.9 L 893.9 2293.1 L 880.9 2278.9 Z" fill="url(#go)"/>
<path d="M 1159.8 2089.9 L 1172.8 2104.1 L 1159.8 2118.3 L 1146.8 2104.1 Z" fill="url(#go)"/>
<path d="M 1407.2 1915.2 L 1420.2 1929.4 L 1407.2 1943.6 L 1394.2 1929.4 Z" fill="url(#go)"/>
<path d="M 1592.5 1740.4 L 1605.5 1754.6 L 1592.5 1768.8 L 1579.5 1754.6 Z" fill="url(#go)"/>
<path d="M 216.5 2789.7 L 229.0 2816.4 L 204.0 2816.4 Z" fill="#000"/>
<path d="M 418.4 2614.9 L 430.9 2641.7 L 405.9 2641.7 Z" fill="#000"/>
<path d="M 612.4 2440.2 L 624.9 2466.9 L 599.9 2466.9 Z" fill="#000"/>
<path d="M 816.9 2265.5 L 829.4 2292.2 L 804.4 2292.2 Z" fill="#000"/>
<path d="M 1050.3 2090.7 L 1062.8 2117.4 L 1037.8 2117.4 Z" fill="#000"/>
<path d="M 1256.0 1916.0 L 1268.5 1942.7 L 1243.5 1942.7 Z" fill="#000"/>
<path d="M 1422.2 1741.2 L 1434.7 1767.9 L 1409.7 1767.9 Z" fill="#000"/>
<rect x="182.6" y="1661.4" width="1737.8" height="1165.0" fill="none" stroke="#000" stroke-width="5"/>
<line x1="182.9" y1="1661.4" x2="182.9" y2="2826.4" stroke="#595959" stroke-width="1.8"/>
<line x1="182.6" y1="2826.7" x2="1920.4" y2="2826.7" stroke="#595959" stroke-width="1.8"/>
<rect x="218.4" y="1693.6" width="438.3" height="519.6" fill="#fff" stroke="#262626" stroke-width="1.8"/>
<ellipse cx="263.6" cy="1737.8" rx="11.9" ry="12.85" fill="url(#gb)"/>
<path d="M 263.6 1809.8 L 276.6 1824.0 L 263.6 1838.2 L 250.6 1824.0 Z" fill="url(#go)"/>
<path d="M 263.9 1897.1 L 276.4 1923.8 L 251.4 1923.8 Z" fill="#000"/>
<line x1="239.25" y1="1996.9" x2="288.05" y2="1996.9" stroke="#ff0000" stroke-width="5.6" stroke-linecap="round" stroke-dasharray="9 10.7"/>
<line x1="239.25" y1="2083.0" x2="288.05" y2="2083.0" stroke="#548235" stroke-width="5.6" stroke-linecap="round" stroke-dasharray="9 10.7"/>
<line x1="239.25" y1="2169.5" x2="288.05" y2="2169.5" stroke="#000090" stroke-width="5.6" stroke-linecap="round" stroke-dasharray="9 10.7"/>
<text transform="translate(0 1756.70)" x="294.26" y="0" font-family="Carlito, 'Liberation Sans', sans-serif" font-size="47.50" textLength="343.04" lengthAdjust="spacingAndGlyphs" xml:space="preserve">CO-CLEW01263-T2</text>
<text transform="translate(0 1844.20)" x="294.26" y="0" font-family="Carlito, 'Liberation Sans', sans-serif" font-size="47.50" textLength="338.71" lengthAdjust="spacingAndGlyphs" xml:space="preserve">CO CLEW01278-T2</text>
<text transform="translate(0 1929.40)" x="294.26" y="0" font-family="Carlito, 'Liberation Sans', sans-serif" font-size="47.50" textLength="338.71" lengthAdjust="spacingAndGlyphs" xml:space="preserve">CO CLEW01225-T2</text>
<text transform="translate(0 2016.10)" x="293.98" y="0" font-family="Carlito, 'Liberation Sans', sans-serif" font-size="47.50" textLength="108.76" lengthAdjust="spacingAndGlyphs" xml:space="preserve">Poly 1</text>
<text transform="translate(0 2103.10)" x="293.98" y="0" font-family="Carlito, 'Liberation Sans', sans-serif" font-size="47.50" textLength="108.76" lengthAdjust="spacingAndGlyphs" xml:space="preserve">Poly 2</text>
<text transform="translate(0 2190.00)" x="294.00" y="0" font-family="Carlito, 'Liberation Sans', sans-serif" font-size="47.50" textLength="108.24" lengthAdjust="spacingAndGlyphs" xml:space="preserve">Poly 3</text>
<rect x="812.9" y="1691.2" width="339.8" height="129.9" fill="#fff" stroke="#000" stroke-width="2"/>
<text transform="translate(0 1772.60)" x="833.21" y="0" font-family="'Liberation Sans', Arial, sans-serif" font-size="39.80" textLength="263.72" lengthAdjust="spacingAndGlyphs" xml:space="preserve">Target R2=0.999</text>
<rect x="905" y="2501.6" width="1005.4" height="259.5" fill="#fff" stroke="#1a1a1a" stroke-width="2"/>
<text transform="translate(0 2601.80) scale(1 1.1000)" x="914.90" y="0" font-family="'Liberation Sans', Arial, sans-serif" font-size="35.00" textLength="307.42" lengthAdjust="spacingAndGlyphs" xml:space="preserve">Poly 1 : [3.5255E-6;</text>
<text transform="translate(0 2601.80) scale(1 1.1000)" x="1233.30" y="0" font-family="'Liberation Sans', Arial, sans-serif" font-size="35.00" textLength="177.09" lengthAdjust="spacingAndGlyphs" xml:space="preserve">-0.001.096;</text>
<text transform="translate(0 2601.80) scale(1 1.1000)" x="1422.90" y="0" font-family="'Liberation Sans', Arial, sans-serif" font-size="35.00" textLength="126.53" lengthAdjust="spacingAndGlyphs" xml:space="preserve">0.53134</text>
<text transform="translate(0 2601.80) scale(1 1.1000)" x="1567.00" y="0" font-family="'Liberation Sans', Arial, sans-serif" font-size="35.00" textLength="9.73" lengthAdjust="spacingAndGlyphs" xml:space="preserve">;</text>
<text transform="translate(0 2601.80) scale(1 1.1000)" x="1587.00" y="0" font-family="'Liberation Sans', Arial, sans-serif" font-size="35.00" textLength="118.72" lengthAdjust="spacingAndGlyphs" xml:space="preserve">-0.6979</text>
<text transform="translate(0 2601.80) scale(1 1.1000)" x="1756.80" y="0" font-family="'Liberation Sans', Arial, sans-serif" font-size="35.00" textLength="9.73" lengthAdjust="spacingAndGlyphs" xml:space="preserve">]</text>
<text transform="translate(0 2647.40) scale(1 1.1000)" x="914.90" y="0" font-family="'Liberation Sans', Arial, sans-serif" font-size="35.00" textLength="258.77" lengthAdjust="spacingAndGlyphs" xml:space="preserve">Poly 2 : [2.01E-6</text>
<text transform="translate(0 2647.40) scale(1 1.1000)" x="1214.00" y="0" font-family="'Liberation Sans', Arial, sans-serif" font-size="35.00" textLength="9.73" lengthAdjust="spacingAndGlyphs" xml:space="preserve">;</text>
<text transform="translate(0 2647.40) scale(1 1.1000)" x="1233.30" y="0" font-family="'Liberation Sans', Arial, sans-serif" font-size="35.00" textLength="177.09" lengthAdjust="spacingAndGlyphs" xml:space="preserve">-0.000737 ;</text>
<text transform="translate(0 2647.40) scale(1 1.1000)" x="1422.90" y="0" font-family="'Liberation Sans', Arial, sans-serif" font-size="35.00" textLength="155.72" lengthAdjust="spacingAndGlyphs" xml:space="preserve">0.436972;</text>
<text transform="translate(0 2647.40) scale(1 1.1000)" x="1587.00" y="0" font-family="'Liberation Sans', Arial, sans-serif" font-size="35.00" textLength="157.64" lengthAdjust="spacingAndGlyphs" xml:space="preserve">-0.312946</text>
<text transform="translate(0 2647.40) scale(1 1.1000)" x="1756.80" y="0" font-family="'Liberation Sans', Arial, sans-serif" font-size="35.00" textLength="9.73" lengthAdjust="spacingAndGlyphs" xml:space="preserve">]</text>
<text transform="translate(0 2693.00) scale(1 1.1000)" x="914.90" y="0" font-family="'Liberation Sans', Arial, sans-serif" font-size="35.00" textLength="258.77" lengthAdjust="spacingAndGlyphs" xml:space="preserve">Poly 3 : [3.24E-6</text>
<text transform="translate(0 2693.00) scale(1 1.1000)" x="1214.00" y="0" font-family="'Liberation Sans', Arial, sans-serif" font-size="35.00" textLength="9.73" lengthAdjust="spacingAndGlyphs" xml:space="preserve">;</text>
<text transform="translate(0 2693.00) scale(1 1.1000)" x="1233.30" y="0" font-family="'Liberation Sans', Arial, sans-serif" font-size="35.00" textLength="177.09" lengthAdjust="spacingAndGlyphs" xml:space="preserve">-0.001033 ;</text>
<text transform="translate(0 2693.00) scale(1 1.1000)" x="1422.90" y="0" font-family="'Liberation Sans', Arial, sans-serif" font-size="35.00" textLength="155.72" lengthAdjust="spacingAndGlyphs" xml:space="preserve">0.506244;</text>
<text transform="translate(0 2693.00) scale(1 1.1000)" x="1587.00" y="0" font-family="'Liberation Sans', Arial, sans-serif" font-size="35.00" textLength="157.64" lengthAdjust="spacingAndGlyphs" xml:space="preserve">-1.306012</text>
<text transform="translate(0 2693.00) scale(1 1.1000)" x="1756.80" y="0" font-family="'Liberation Sans', Arial, sans-serif" font-size="35.00" textLength="9.73" lengthAdjust="spacingAndGlyphs" xml:space="preserve">]</text>
<text transform="translate(0 3159.00)" x="605.07" y="0" font-family="'TeX Gyre Pagella', 'Palatino Linotype', Palatino, 'Liberation Serif', serif" font-size="75.00" stroke="#000" stroke-width="0.5" textLength="33.18" lengthAdjust="spacingAndGlyphs" xml:space="preserve">(</text>
<text transform="translate(0 3159.00)" x="634.02" y="0" font-family="'TeX Gyre Pagella', 'Palatino Linotype', Palatino, 'Liberation Serif', serif" font-size="75.00" font-weight="700" textLength="44.93" lengthAdjust="spacingAndGlyphs" xml:space="preserve">b</text>
<text transform="translate(0 3159.00)" x="676.28" y="0" font-family="'TeX Gyre Pagella', 'Palatino Linotype', Palatino, 'Liberation Serif', serif" font-size="75.00" stroke="#000" stroke-width="0.5" textLength="33.18" lengthAdjust="spacingAndGlyphs" xml:space="preserve">)</text>
<text transform="translate(0 3159.00)" x="723.79" y="0" font-family="'TeX Gyre Pagella', 'Palatino Linotype', Palatino, 'Liberation Serif', serif" font-size="75.00" stroke="#000" stroke-width="0.5" textLength="569.81" lengthAdjust="spacingAndGlyphs" xml:space="preserve">Polynoms fitting.</text></svg>
</body></html>
